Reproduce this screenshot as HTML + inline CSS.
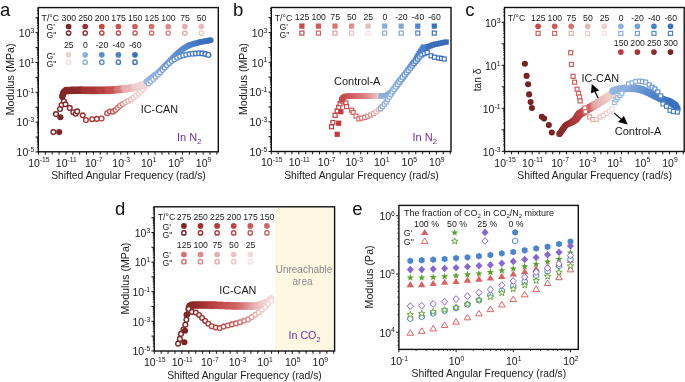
<!DOCTYPE html>
<html><head><meta charset="utf-8"><style>
html,body{margin:0;padding:0;background:#fff;}
svg{display:block;font-family:"Liberation Sans", sans-serif;will-change:transform;}
</style></head><body>
<svg width="685" height="382" viewBox="0 0 685 382">
<rect width="685" height="382" fill="#fff"/>
<text x="0.10" y="15.70" font-size="18.5" text-anchor="start" fill="#111" >a</text>
<text x="233.00" y="15.70" font-size="18.5" text-anchor="start" fill="#111" >b</text>
<text x="465.20" y="15.70" font-size="18.5" text-anchor="start" fill="#111" >c</text>
<text x="115.00" y="214.90" font-size="18.5" text-anchor="start" fill="#111" >d</text>
<text x="352.30" y="215.00" font-size="18.5" text-anchor="start" fill="#111" >e</text>
<rect x="275" y="207.2" width="59.6" height="143.4" fill="#fff7e2"/>
<path d="M38.50 151.80v2.8M45.36 151.80v2.8M52.22 151.80v2.8M59.08 151.80v2.8M65.94 151.80v2.8M72.80 151.80v2.8M79.66 151.80v2.8M86.52 151.80v2.8M93.38 151.80v2.8M100.24 151.80v2.8M107.10 151.80v2.8M113.96 151.80v2.8M120.82 151.80v2.8M127.68 151.80v2.8M134.54 151.80v2.8M141.40 151.80v2.8M148.26 151.80v2.8M155.12 151.80v2.8M161.98 151.80v2.8M168.84 151.80v2.8M175.70 151.80v2.8M182.56 151.80v2.8M189.42 151.80v2.8M196.28 151.80v2.8M203.14 151.80v2.8M210.00 151.80v2.8M216.86 151.80v2.8" stroke="#111" stroke-width="1.0"/>
<text x="38.90" y="166.50" font-size="10.5" text-anchor="middle" fill="#1a1a1a">10<tspan font-size="6.8" dy="-4.1">-15</tspan></text>
<text x="66.34" y="166.50" font-size="10.5" text-anchor="middle" fill="#1a1a1a">10<tspan font-size="6.8" dy="-4.1">-11</tspan></text>
<text x="93.78" y="166.50" font-size="10.5" text-anchor="middle" fill="#1a1a1a">10<tspan font-size="6.8" dy="-4.1">-7</tspan></text>
<text x="121.22" y="166.50" font-size="10.5" text-anchor="middle" fill="#1a1a1a">10<tspan font-size="6.8" dy="-4.1">-3</tspan></text>
<text x="148.66" y="166.50" font-size="10.5" text-anchor="middle" fill="#1a1a1a">10<tspan font-size="6.8" dy="-4.1">1</tspan></text>
<text x="176.10" y="166.50" font-size="10.5" text-anchor="middle" fill="#1a1a1a">10<tspan font-size="6.8" dy="-4.1">5</tspan></text>
<text x="203.54" y="166.50" font-size="10.5" text-anchor="middle" fill="#1a1a1a">10<tspan font-size="6.8" dy="-4.1">9</tspan></text>
<path d="M38.30 151.90h-2.8M38.30 137.00h-2.8M38.30 122.10h-2.8M38.30 107.20h-2.8M38.30 92.30h-2.8M38.30 77.40h-2.8M38.30 62.50h-2.8M38.30 47.60h-2.8M38.30 32.70h-2.8M38.30 17.80h-2.8" stroke="#111" stroke-width="1.0"/>
<path d="M38.30 147.41h-1.4M38.30 144.79h-1.4M38.30 142.93h-1.4M38.30 141.49h-1.4M38.30 140.31h-1.4M38.30 139.31h-1.4M38.30 138.44h-1.4M38.30 137.68h-1.4M38.30 132.51h-1.4M38.30 129.89h-1.4M38.30 128.03h-1.4M38.30 126.59h-1.4M38.30 125.41h-1.4M38.30 124.41h-1.4M38.30 123.54h-1.4M38.30 122.78h-1.4M38.30 117.61h-1.4M38.30 114.99h-1.4M38.30 113.13h-1.4M38.30 111.69h-1.4M38.30 110.51h-1.4M38.30 109.51h-1.4M38.30 108.64h-1.4M38.30 107.88h-1.4M38.30 102.71h-1.4M38.30 100.09h-1.4M38.30 98.23h-1.4M38.30 96.79h-1.4M38.30 95.61h-1.4M38.30 94.61h-1.4M38.30 93.74h-1.4M38.30 92.98h-1.4M38.30 87.81h-1.4M38.30 85.19h-1.4M38.30 83.33h-1.4M38.30 81.89h-1.4M38.30 80.71h-1.4M38.30 79.71h-1.4M38.30 78.84h-1.4M38.30 78.08h-1.4M38.30 72.91h-1.4M38.30 70.29h-1.4M38.30 68.43h-1.4M38.30 66.99h-1.4M38.30 65.81h-1.4M38.30 64.81h-1.4M38.30 63.94h-1.4M38.30 63.18h-1.4M38.30 58.01h-1.4M38.30 55.39h-1.4M38.30 53.53h-1.4M38.30 52.09h-1.4M38.30 50.91h-1.4M38.30 49.91h-1.4M38.30 49.04h-1.4M38.30 48.28h-1.4M38.30 43.11h-1.4M38.30 40.49h-1.4M38.30 38.63h-1.4M38.30 37.19h-1.4M38.30 36.01h-1.4M38.30 35.01h-1.4M38.30 34.14h-1.4M38.30 33.38h-1.4M38.30 28.21h-1.4M38.30 25.59h-1.4M38.30 23.73h-1.4M38.30 22.29h-1.4M38.30 21.11h-1.4M38.30 20.11h-1.4M38.30 19.24h-1.4M38.30 18.48h-1.4M38.30 13.31h-1.4M38.30 10.69h-1.4M38.30 8.83h-1.4" stroke="#111" stroke-width="0.8"/>
<text x="34.30" y="37.00" font-size="10.5" text-anchor="end" fill="#1a1a1a">10<tspan font-size="6.8" dy="-4.1">3</tspan></text>
<text x="34.30" y="66.80" font-size="10.5" text-anchor="end" fill="#1a1a1a">10<tspan font-size="6.8" dy="-4.1">1</tspan></text>
<text x="34.30" y="96.60" font-size="10.5" text-anchor="end" fill="#1a1a1a">10<tspan font-size="6.8" dy="-4.1">-1</tspan></text>
<text x="34.30" y="126.40" font-size="10.5" text-anchor="end" fill="#1a1a1a">10<tspan font-size="6.8" dy="-4.1">-3</tspan></text>
<text x="34.30" y="156.20" font-size="10.5" text-anchor="end" fill="#1a1a1a">10<tspan font-size="6.8" dy="-4.1">-5</tspan></text>
<rect x="38.30" y="7.60" width="180.00" height="144.20" fill="none" stroke="#111" stroke-width="1.4"/>
<text x="0" y="0" font-size="10.6" text-anchor="middle" fill="#1a1a1a" transform="translate(13.70,79.40) rotate(-90)">Modulus (MPa)</text>
<text x="128.50" y="179.40" font-size="10.35" text-anchor="middle" fill="#1a1a1a" >Shifted Angular Frequency (rad/s)</text>
<path d="M271.30 151.50v2.8M278.18 151.50v2.8M285.06 151.50v2.8M291.94 151.50v2.8M298.82 151.50v2.8M305.70 151.50v2.8M312.58 151.50v2.8M319.46 151.50v2.8M326.34 151.50v2.8M333.22 151.50v2.8M340.10 151.50v2.8M346.98 151.50v2.8M353.86 151.50v2.8M360.74 151.50v2.8M367.62 151.50v2.8M374.50 151.50v2.8M381.38 151.50v2.8M388.26 151.50v2.8M395.14 151.50v2.8M402.02 151.50v2.8M408.90 151.50v2.8M415.78 151.50v2.8M422.66 151.50v2.8M429.54 151.50v2.8M436.42 151.50v2.8M443.30 151.50v2.8M450.18 151.50v2.8" stroke="#111" stroke-width="1.0"/>
<text x="271.70" y="166.40" font-size="10.5" text-anchor="middle" fill="#1a1a1a">10<tspan font-size="6.8" dy="-4.1">-15</tspan></text>
<text x="299.22" y="166.40" font-size="10.5" text-anchor="middle" fill="#1a1a1a">10<tspan font-size="6.8" dy="-4.1">-11</tspan></text>
<text x="326.74" y="166.40" font-size="10.5" text-anchor="middle" fill="#1a1a1a">10<tspan font-size="6.8" dy="-4.1">-7</tspan></text>
<text x="354.26" y="166.40" font-size="10.5" text-anchor="middle" fill="#1a1a1a">10<tspan font-size="6.8" dy="-4.1">-3</tspan></text>
<text x="381.78" y="166.40" font-size="10.5" text-anchor="middle" fill="#1a1a1a">10<tspan font-size="6.8" dy="-4.1">1</tspan></text>
<text x="409.30" y="166.40" font-size="10.5" text-anchor="middle" fill="#1a1a1a">10<tspan font-size="6.8" dy="-4.1">5</tspan></text>
<text x="436.82" y="166.40" font-size="10.5" text-anchor="middle" fill="#1a1a1a">10<tspan font-size="6.8" dy="-4.1">9</tspan></text>
<path d="M271.30 151.50h-2.8M271.30 136.62h-2.8M271.30 121.75h-2.8M271.30 106.88h-2.8M271.30 92.00h-2.8M271.30 77.12h-2.8M271.30 62.25h-2.8M271.30 47.38h-2.8M271.30 32.50h-2.8M271.30 17.62h-2.8" stroke="#111" stroke-width="1.0"/>
<path d="M271.30 147.02h-1.4M271.30 144.40h-1.4M271.30 142.54h-1.4M271.30 141.10h-1.4M271.30 139.93h-1.4M271.30 138.93h-1.4M271.30 138.07h-1.4M271.30 137.31h-1.4M271.30 132.15h-1.4M271.30 129.53h-1.4M271.30 127.67h-1.4M271.30 126.23h-1.4M271.30 125.05h-1.4M271.30 124.05h-1.4M271.30 123.19h-1.4M271.30 122.43h-1.4M271.30 117.27h-1.4M271.30 114.65h-1.4M271.30 112.79h-1.4M271.30 111.35h-1.4M271.30 110.18h-1.4M271.30 109.18h-1.4M271.30 108.32h-1.4M271.30 107.56h-1.4M271.30 102.40h-1.4M271.30 99.78h-1.4M271.30 97.92h-1.4M271.30 96.48h-1.4M271.30 95.30h-1.4M271.30 94.30h-1.4M271.30 93.44h-1.4M271.30 92.68h-1.4M271.30 87.52h-1.4M271.30 84.90h-1.4M271.30 83.04h-1.4M271.30 81.60h-1.4M271.30 80.43h-1.4M271.30 79.43h-1.4M271.30 78.57h-1.4M271.30 77.81h-1.4M271.30 72.65h-1.4M271.30 70.03h-1.4M271.30 68.17h-1.4M271.30 66.73h-1.4M271.30 65.55h-1.4M271.30 64.55h-1.4M271.30 63.69h-1.4M271.30 62.93h-1.4M271.30 57.77h-1.4M271.30 55.15h-1.4M271.30 53.29h-1.4M271.30 51.85h-1.4M271.30 50.68h-1.4M271.30 49.68h-1.4M271.30 48.82h-1.4M271.30 48.06h-1.4M271.30 42.90h-1.4M271.30 40.28h-1.4M271.30 38.42h-1.4M271.30 36.98h-1.4M271.30 35.80h-1.4M271.30 34.80h-1.4M271.30 33.94h-1.4M271.30 33.18h-1.4M271.30 28.02h-1.4M271.30 25.40h-1.4M271.30 23.54h-1.4M271.30 22.10h-1.4M271.30 20.93h-1.4M271.30 19.93h-1.4M271.30 19.07h-1.4M271.30 18.31h-1.4M271.30 13.15h-1.4M271.30 10.53h-1.4M271.30 8.67h-1.4" stroke="#111" stroke-width="0.8"/>
<text x="267.30" y="36.80" font-size="10.5" text-anchor="end" fill="#1a1a1a">10<tspan font-size="6.8" dy="-4.1">3</tspan></text>
<text x="267.30" y="66.55" font-size="10.5" text-anchor="end" fill="#1a1a1a">10<tspan font-size="6.8" dy="-4.1">1</tspan></text>
<text x="267.30" y="96.30" font-size="10.5" text-anchor="end" fill="#1a1a1a">10<tspan font-size="6.8" dy="-4.1">-1</tspan></text>
<text x="267.30" y="126.05" font-size="10.5" text-anchor="end" fill="#1a1a1a">10<tspan font-size="6.8" dy="-4.1">-3</tspan></text>
<text x="267.30" y="155.80" font-size="10.5" text-anchor="end" fill="#1a1a1a">10<tspan font-size="6.8" dy="-4.1">-5</tspan></text>
<rect x="271.30" y="7.50" width="179.70" height="144.00" fill="none" stroke="#111" stroke-width="1.4"/>
<text x="0" y="0" font-size="10.6" text-anchor="middle" fill="#1a1a1a" transform="translate(247.00,79.10) rotate(-90)">Modulus (MPa)</text>
<text x="361.50" y="179.30" font-size="10.35" text-anchor="middle" fill="#1a1a1a" >Shifted Angular Frequency (rad/s)</text>
<path d="M154.30 351.00v2.8M161.20 351.00v2.8M168.10 351.00v2.8M175.00 351.00v2.8M181.90 351.00v2.8M188.80 351.00v2.8M195.70 351.00v2.8M202.60 351.00v2.8M209.50 351.00v2.8M216.40 351.00v2.8M223.30 351.00v2.8M230.20 351.00v2.8M237.10 351.00v2.8M244.00 351.00v2.8M250.90 351.00v2.8M257.80 351.00v2.8M264.70 351.00v2.8M271.60 351.00v2.8M278.50 351.00v2.8M285.40 351.00v2.8M292.30 351.00v2.8M299.20 351.00v2.8M306.10 351.00v2.8M313.00 351.00v2.8M319.90 351.00v2.8M326.80 351.00v2.8M333.70 351.00v2.8" stroke="#111" stroke-width="1.0"/>
<text x="154.70" y="366.10" font-size="10.5" text-anchor="middle" fill="#1a1a1a">10<tspan font-size="6.8" dy="-4.1">-15</tspan></text>
<text x="182.30" y="366.10" font-size="10.5" text-anchor="middle" fill="#1a1a1a">10<tspan font-size="6.8" dy="-4.1">-11</tspan></text>
<text x="209.90" y="366.10" font-size="10.5" text-anchor="middle" fill="#1a1a1a">10<tspan font-size="6.8" dy="-4.1">-7</tspan></text>
<text x="237.50" y="366.10" font-size="10.5" text-anchor="middle" fill="#1a1a1a">10<tspan font-size="6.8" dy="-4.1">-3</tspan></text>
<text x="265.10" y="366.10" font-size="10.5" text-anchor="middle" fill="#1a1a1a">10<tspan font-size="6.8" dy="-4.1">1</tspan></text>
<text x="292.70" y="366.10" font-size="10.5" text-anchor="middle" fill="#1a1a1a">10<tspan font-size="6.8" dy="-4.1">5</tspan></text>
<text x="320.30" y="366.10" font-size="10.5" text-anchor="middle" fill="#1a1a1a">10<tspan font-size="6.8" dy="-4.1">9</tspan></text>
<path d="M154.20 350.90h-2.8M154.20 336.10h-2.8M154.20 321.30h-2.8M154.20 306.50h-2.8M154.20 291.70h-2.8M154.20 276.90h-2.8M154.20 262.10h-2.8M154.20 247.30h-2.8M154.20 232.50h-2.8M154.20 217.70h-2.8" stroke="#111" stroke-width="1.0"/>
<path d="M154.20 346.44h-1.4M154.20 343.84h-1.4M154.20 341.99h-1.4M154.20 340.56h-1.4M154.20 339.38h-1.4M154.20 338.39h-1.4M154.20 337.53h-1.4M154.20 336.78h-1.4M154.20 331.64h-1.4M154.20 329.04h-1.4M154.20 327.19h-1.4M154.20 325.76h-1.4M154.20 324.58h-1.4M154.20 323.59h-1.4M154.20 322.73h-1.4M154.20 321.98h-1.4M154.20 316.84h-1.4M154.20 314.24h-1.4M154.20 312.39h-1.4M154.20 310.96h-1.4M154.20 309.78h-1.4M154.20 308.79h-1.4M154.20 307.93h-1.4M154.20 307.18h-1.4M154.20 302.04h-1.4M154.20 299.44h-1.4M154.20 297.59h-1.4M154.20 296.16h-1.4M154.20 294.98h-1.4M154.20 293.99h-1.4M154.20 293.13h-1.4M154.20 292.38h-1.4M154.20 287.24h-1.4M154.20 284.64h-1.4M154.20 282.79h-1.4M154.20 281.36h-1.4M154.20 280.18h-1.4M154.20 279.19h-1.4M154.20 278.33h-1.4M154.20 277.58h-1.4M154.20 272.44h-1.4M154.20 269.84h-1.4M154.20 267.99h-1.4M154.20 266.56h-1.4M154.20 265.38h-1.4M154.20 264.39h-1.4M154.20 263.53h-1.4M154.20 262.78h-1.4M154.20 257.64h-1.4M154.20 255.04h-1.4M154.20 253.19h-1.4M154.20 251.76h-1.4M154.20 250.58h-1.4M154.20 249.59h-1.4M154.20 248.73h-1.4M154.20 247.98h-1.4M154.20 242.84h-1.4M154.20 240.24h-1.4M154.20 238.39h-1.4M154.20 236.96h-1.4M154.20 235.78h-1.4M154.20 234.79h-1.4M154.20 233.93h-1.4M154.20 233.18h-1.4M154.20 228.04h-1.4M154.20 225.44h-1.4M154.20 223.59h-1.4M154.20 222.16h-1.4M154.20 220.98h-1.4M154.20 219.99h-1.4M154.20 219.13h-1.4M154.20 218.38h-1.4M154.20 213.24h-1.4M154.20 210.64h-1.4M154.20 208.79h-1.4M154.20 207.36h-1.4" stroke="#111" stroke-width="0.8"/>
<text x="150.20" y="236.80" font-size="10.5" text-anchor="end" fill="#1a1a1a">10<tspan font-size="6.8" dy="-4.1">3</tspan></text>
<text x="150.20" y="266.40" font-size="10.5" text-anchor="end" fill="#1a1a1a">10<tspan font-size="6.8" dy="-4.1">1</tspan></text>
<text x="150.20" y="296.00" font-size="10.5" text-anchor="end" fill="#1a1a1a">10<tspan font-size="6.8" dy="-4.1">-1</tspan></text>
<text x="150.20" y="325.60" font-size="10.5" text-anchor="end" fill="#1a1a1a">10<tspan font-size="6.8" dy="-4.1">-3</tspan></text>
<text x="150.20" y="355.20" font-size="10.5" text-anchor="end" fill="#1a1a1a">10<tspan font-size="6.8" dy="-4.1">-5</tspan></text>
<rect x="154.20" y="206.80" width="180.40" height="144.20" fill="none" stroke="#111" stroke-width="1.4"/>
<text x="0" y="0" font-size="10.6" text-anchor="middle" fill="#1a1a1a" transform="translate(129.20,278.60) rotate(-90)">Modulus (MPa)</text>
<text x="244.50" y="379.00" font-size="10.35" text-anchor="middle" fill="#1a1a1a" >Shifted Angular Frequency (rad/s)</text>
<text transform="translate(41.60,20.80) scale(1,1.1)" font-size="8.7" text-anchor="start" fill="#1a1a1a" >T/°C</text>
<text transform="translate(68.80,20.60) scale(1,1.1)" font-size="8.7" text-anchor="middle" fill="#1a1a1a" >300</text>
<circle cx="68.60" cy="26.50" r="2.85" fill="#7e2424"/>
<circle cx="68.60" cy="33.10" r="2.15" fill="#fff" stroke="#7e2424" stroke-width="1.4"/>
<text transform="translate(85.40,20.60) scale(1,1.1)" font-size="8.7" text-anchor="middle" fill="#1a1a1a" >250</text>
<circle cx="85.20" cy="26.50" r="2.85" fill="#a03030"/>
<circle cx="85.20" cy="33.10" r="2.15" fill="#fff" stroke="#a03030" stroke-width="1.4"/>
<text transform="translate(102.00,20.60) scale(1,1.1)" font-size="8.7" text-anchor="middle" fill="#1a1a1a" >200</text>
<circle cx="101.80" cy="26.50" r="2.85" fill="#c4463f"/>
<circle cx="101.80" cy="33.10" r="2.15" fill="#fff" stroke="#c4463f" stroke-width="1.4"/>
<text transform="translate(118.60,20.60) scale(1,1.1)" font-size="8.7" text-anchor="middle" fill="#1a1a1a" >175</text>
<circle cx="118.40" cy="26.50" r="2.85" fill="#cb5050"/>
<circle cx="118.40" cy="33.10" r="2.15" fill="#fff" stroke="#cb5050" stroke-width="1.4"/>
<text transform="translate(135.20,20.60) scale(1,1.1)" font-size="8.7" text-anchor="middle" fill="#1a1a1a" >150</text>
<circle cx="135.00" cy="26.50" r="2.85" fill="#cf5c5c"/>
<circle cx="135.00" cy="33.10" r="2.15" fill="#fff" stroke="#cf5c5c" stroke-width="1.4"/>
<text transform="translate(151.80,20.60) scale(1,1.1)" font-size="8.7" text-anchor="middle" fill="#1a1a1a" >125</text>
<circle cx="151.60" cy="26.50" r="2.85" fill="#d66c6c"/>
<circle cx="151.60" cy="33.10" r="2.15" fill="#fff" stroke="#d66c6c" stroke-width="1.4"/>
<text transform="translate(168.40,20.60) scale(1,1.1)" font-size="8.7" text-anchor="middle" fill="#1a1a1a" >100</text>
<circle cx="168.20" cy="26.50" r="2.85" fill="#dc8a8a"/>
<circle cx="168.20" cy="33.10" r="2.15" fill="#fff" stroke="#dc8a8a" stroke-width="1.4"/>
<text transform="translate(185.00,20.60) scale(1,1.1)" font-size="8.7" text-anchor="middle" fill="#1a1a1a" >75</text>
<circle cx="184.80" cy="26.50" r="2.85" fill="#e6adad"/>
<circle cx="184.80" cy="33.10" r="2.15" fill="#fff" stroke="#e6adad" stroke-width="1.4"/>
<text transform="translate(201.60,20.60) scale(1,1.1)" font-size="8.7" text-anchor="middle" fill="#1a1a1a" >50</text>
<circle cx="201.40" cy="26.50" r="2.85" fill="#ebbaba"/>
<circle cx="201.40" cy="33.10" r="2.15" fill="#fff" stroke="#efcaca" stroke-width="1.4"/>
<text x="46.40" y="30.40" font-size="8.7" text-anchor="start" fill="#1a1a1a" >G'</text>
<text x="46.40" y="37.80" font-size="8.7" text-anchor="start" fill="#1a1a1a" >G"</text>
<text transform="translate(68.80,47.60) scale(1,1.1)" font-size="8.7" text-anchor="middle" fill="#1a1a1a" >25</text>
<circle cx="68.60" cy="54.80" r="2.85" fill="#efcfcf"/>
<circle cx="68.60" cy="62.20" r="2.15" fill="#fff" stroke="#f3dede" stroke-width="1.4"/>
<text transform="translate(85.40,47.60) scale(1,1.1)" font-size="8.7" text-anchor="middle" fill="#1a1a1a" >0</text>
<circle cx="85.20" cy="54.80" r="2.85" fill="#8eb2de"/>
<circle cx="85.20" cy="62.20" r="2.15" fill="#fff" stroke="#8eb2de" stroke-width="1.4"/>
<text transform="translate(102.00,47.60) scale(1,1.1)" font-size="8.7" text-anchor="middle" fill="#1a1a1a" >-20</text>
<circle cx="101.80" cy="54.80" r="2.85" fill="#5b8fd2"/>
<circle cx="101.80" cy="62.20" r="2.15" fill="#fff" stroke="#5b8fd2" stroke-width="1.4"/>
<text transform="translate(118.60,47.60) scale(1,1.1)" font-size="8.7" text-anchor="middle" fill="#1a1a1a" >-40</text>
<circle cx="118.40" cy="54.80" r="2.85" fill="#4a80cb"/>
<circle cx="118.40" cy="62.20" r="2.15" fill="#fff" stroke="#4a80cb" stroke-width="1.4"/>
<text transform="translate(135.20,47.60) scale(1,1.1)" font-size="8.7" text-anchor="middle" fill="#1a1a1a" >-60</text>
<circle cx="135.00" cy="54.80" r="2.85" fill="#3a70c0"/>
<circle cx="135.00" cy="62.20" r="2.15" fill="#fff" stroke="#3a70c0" stroke-width="1.4"/>
<text x="46.40" y="58.70" font-size="8.7" text-anchor="start" fill="#1a1a1a" >G'</text>
<text x="46.40" y="66.90" font-size="8.7" text-anchor="start" fill="#1a1a1a" >G"</text>
<circle cx="53.40" cy="132.10" r="2.35" fill="#fff" stroke="#7e2424" stroke-width="1.4"/>
<circle cx="56.00" cy="114.10" r="2.35" fill="#fff" stroke="#7e2424" stroke-width="1.4"/>
<circle cx="60.00" cy="109.00" r="2.35" fill="#fff" stroke="#7e2424" stroke-width="1.4"/>
<circle cx="61.61" cy="104.93" r="2.35" fill="#fff" stroke="#802525" stroke-width="1.4"/>
<circle cx="63.90" cy="101.20" r="2.35" fill="#fff" stroke="#832727" stroke-width="1.4"/>
<circle cx="65.50" cy="104.30" r="2.35" fill="#fff" stroke="#852828" stroke-width="1.4"/>
<circle cx="69.75" cy="107.91" r="2.35" fill="#fff" stroke="#872929" stroke-width="1.4"/>
<circle cx="73.30" cy="112.20" r="2.35" fill="#fff" stroke="#892929" stroke-width="1.4"/>
<circle cx="75.70" cy="113.80" r="2.35" fill="#fff" stroke="#8a2a2a" stroke-width="1.4"/>
<circle cx="77.20" cy="111.40" r="2.35" fill="#fff" stroke="#8a2a2a" stroke-width="1.4"/>
<circle cx="82.70" cy="115.30" r="2.35" fill="#fff" stroke="#9b3030" stroke-width="1.4"/>
<circle cx="85.90" cy="120.00" r="2.35" fill="#fff" stroke="#a63434" stroke-width="1.4"/>
<circle cx="92.20" cy="119.20" r="2.35" fill="#fff" stroke="#a73535" stroke-width="1.4"/>
<circle cx="96.90" cy="118.90" r="2.35" fill="#fff" stroke="#a83535" stroke-width="1.4"/>
<circle cx="101.60" cy="118.50" r="2.35" fill="#fff" stroke="#b84040" stroke-width="1.4"/>
<circle cx="107.10" cy="113.20" r="2.35" fill="#fff" stroke="#c04949" stroke-width="1.4"/>
<circle cx="109.82" cy="111.62" r="2.35" fill="#fff" stroke="#c75151" stroke-width="1.4"/>
<circle cx="112.90" cy="111.65" r="2.35" fill="#fff" stroke="#c75151" stroke-width="1.4"/>
<circle cx="115.39" cy="109.97" r="2.35" fill="#fff" stroke="#cb5959" stroke-width="1.4"/>
<circle cx="117.72" cy="107.85" r="2.35" fill="#fff" stroke="#d67777" stroke-width="1.4"/>
<circle cx="120.03" cy="105.72" r="2.35" fill="#fff" stroke="#d77878" stroke-width="1.4"/>
<circle cx="122.68" cy="104.03" r="2.35" fill="#fff" stroke="#dd8c8c" stroke-width="1.4"/>
<circle cx="125.35" cy="102.37" r="2.35" fill="#fff" stroke="#e6b1b1" stroke-width="1.4"/>
<circle cx="128.17" cy="100.97" r="2.35" fill="#fff" stroke="#e7b3b3" stroke-width="1.4"/>
<circle cx="130.98" cy="99.56" r="2.35" fill="#fff" stroke="#e8b4b4" stroke-width="1.4"/>
<circle cx="133.53" cy="97.74" r="2.35" fill="#fff" stroke="#edc7c7" stroke-width="1.4"/>
<circle cx="135.98" cy="95.77" r="2.35" fill="#fff" stroke="#efcece" stroke-width="1.4"/>
<circle cx="138.42" cy="93.78" r="2.35" fill="#fff" stroke="#f0d0d0" stroke-width="1.4"/>
<circle cx="140.67" cy="91.58" r="2.35" fill="#fff" stroke="#f1d2d2" stroke-width="1.4"/>
<circle cx="142.91" cy="89.38" r="2.35" fill="#fff" stroke="#f1d3d3" stroke-width="1.4"/>
<circle cx="144.99" cy="87.02" r="2.35" fill="#fff" stroke="#f2d5d5" stroke-width="1.4"/>
<circle cx="147.00" cy="84.60" r="2.35" fill="#fff" stroke="#f2d6d6" stroke-width="1.4"/>
<circle cx="59.20" cy="132.10" r="3.05" fill="#7e2424"/>
<circle cx="60.40" cy="117.20" r="3.05" fill="#7e2424"/>
<circle cx="62.30" cy="97.00" r="3.05" fill="#812626"/>
<circle cx="62.79" cy="95.22" r="3.05" fill="#822626"/>
<circle cx="63.28" cy="93.43" r="3.05" fill="#822626"/>
<circle cx="64.55" cy="92.20" r="3.05" fill="#842727"/>
<circle cx="66.09" cy="91.20" r="3.05" fill="#862828"/>
<circle cx="67.94" cy="91.17" r="3.05" fill="#872828"/>
<circle cx="69.79" cy="91.15" r="3.05" fill="#882929"/>
<circle cx="71.64" cy="91.12" r="3.05" fill="#882929"/>
<circle cx="73.49" cy="91.09" r="3.05" fill="#892929"/>
<circle cx="75.34" cy="91.07" r="3.05" fill="#8a2a2a"/>
<circle cx="77.19" cy="91.04" r="3.05" fill="#8a2a2a"/>
<circle cx="79.04" cy="91.01" r="3.05" fill="#8b2b2b"/>
<circle cx="80.89" cy="91.01" r="3.05" fill="#8c2b2b"/>
<circle cx="82.74" cy="91.04" r="3.05" fill="#9b3030"/>
<circle cx="84.59" cy="91.06" r="3.05" fill="#a63434"/>
<circle cx="86.44" cy="91.09" r="3.05" fill="#a63434"/>
<circle cx="88.29" cy="91.11" r="3.05" fill="#a73434"/>
<circle cx="90.13" cy="91.14" r="3.05" fill="#a73434"/>
<circle cx="91.98" cy="91.16" r="3.05" fill="#a73535"/>
<circle cx="93.83" cy="91.18" r="3.05" fill="#a83535"/>
<circle cx="95.68" cy="91.19" r="3.05" fill="#a83535"/>
<circle cx="97.53" cy="91.17" r="3.05" fill="#ac3838"/>
<circle cx="99.38" cy="91.14" r="3.05" fill="#b84040"/>
<circle cx="101.23" cy="91.12" r="3.05" fill="#b84040"/>
<circle cx="103.08" cy="91.09" r="3.05" fill="#b84040"/>
<circle cx="104.93" cy="91.07" r="3.05" fill="#b84040"/>
<circle cx="106.78" cy="91.04" r="3.05" fill="#bd4646"/>
<circle cx="108.63" cy="91.02" r="3.05" fill="#c65050"/>
<circle cx="110.48" cy="90.96" r="3.05" fill="#c75151"/>
<circle cx="112.32" cy="90.81" r="3.05" fill="#c75151"/>
<circle cx="114.17" cy="90.67" r="3.05" fill="#c85252"/>
<circle cx="116.01" cy="90.52" r="3.05" fill="#cf6464"/>
<circle cx="117.86" cy="90.37" r="3.05" fill="#d67777"/>
<circle cx="119.70" cy="90.22" r="3.05" fill="#d77878"/>
<circle cx="121.54" cy="90.08" r="3.05" fill="#d87a7a"/>
<circle cx="123.39" cy="89.93" r="3.05" fill="#e29f9f"/>
<circle cx="125.23" cy="89.77" r="3.05" fill="#e6b1b1"/>
<circle cx="127.06" cy="89.49" r="3.05" fill="#e7b2b2"/>
<circle cx="128.89" cy="89.22" r="3.05" fill="#e7b3b3"/>
<circle cx="130.72" cy="88.94" r="3.05" fill="#e8b4b4"/>
<circle cx="132.55" cy="88.67" r="3.05" fill="#eabbbb"/>
<circle cx="134.38" cy="88.39" r="3.05" fill="#efcccc"/>
<circle cx="136.17" cy="87.94" r="3.05" fill="#f0cece"/>
<circle cx="137.93" cy="87.39" r="3.05" fill="#f0cfcf"/>
<circle cx="139.70" cy="86.84" r="3.05" fill="#f0d1d1"/>
<circle cx="141.47" cy="86.30" r="3.05" fill="#f1d2d2"/>
<circle cx="143.23" cy="85.75" r="3.05" fill="#f1d4d4"/>
<circle cx="145.00" cy="85.20" r="3.05" fill="#f2d5d5"/>
<circle cx="62.30" cy="96.00" r="3.05" fill="#812626"/>
<circle cx="62.79" cy="94.21" r="3.05" fill="#822626"/>
<circle cx="63.28" cy="92.42" r="3.05" fill="#822626"/>
<circle cx="64.48" cy="91.08" r="3.05" fill="#842727"/>
<circle cx="65.90" cy="89.89" r="3.05" fill="#862828"/>
<circle cx="67.72" cy="89.75" r="3.05" fill="#872828"/>
<circle cx="69.58" cy="89.70" r="3.05" fill="#872929"/>
<circle cx="71.43" cy="89.64" r="3.05" fill="#882929"/>
<circle cx="73.29" cy="89.59" r="3.05" fill="#892929"/>
<circle cx="75.14" cy="89.54" r="3.05" fill="#8a2a2a"/>
<circle cx="77.00" cy="89.49" r="3.05" fill="#8a2a2a"/>
<circle cx="78.85" cy="89.43" r="3.05" fill="#8b2b2b"/>
<circle cx="80.71" cy="89.41" r="3.05" fill="#8c2b2b"/>
<circle cx="82.56" cy="89.43" r="3.05" fill="#9a3030"/>
<circle cx="84.42" cy="89.46" r="3.05" fill="#a63434"/>
<circle cx="86.27" cy="89.48" r="3.05" fill="#a63434"/>
<circle cx="88.13" cy="89.51" r="3.05" fill="#a73434"/>
<circle cx="89.98" cy="89.53" r="3.05" fill="#a73434"/>
<circle cx="91.84" cy="89.56" r="3.05" fill="#a73535"/>
<circle cx="93.69" cy="89.58" r="3.05" fill="#a73535"/>
<circle cx="95.55" cy="89.59" r="3.05" fill="#a83535"/>
<circle cx="97.40" cy="89.57" r="3.05" fill="#ab3737"/>
<circle cx="99.26" cy="89.54" r="3.05" fill="#b84040"/>
<circle cx="101.11" cy="89.52" r="3.05" fill="#b84040"/>
<circle cx="102.97" cy="89.49" r="3.05" fill="#b84040"/>
<circle cx="104.82" cy="89.47" r="3.05" fill="#b84040"/>
<circle cx="106.68" cy="89.44" r="3.05" fill="#bd4545"/>
<circle cx="108.54" cy="89.42" r="3.05" fill="#c65050"/>
<circle cx="110.39" cy="89.37" r="3.05" fill="#c75151"/>
<circle cx="112.24" cy="89.22" r="3.05" fill="#c75151"/>
<circle cx="114.09" cy="89.07" r="3.05" fill="#c85252"/>
<circle cx="115.94" cy="88.92" r="3.05" fill="#cf6363"/>
<circle cx="117.79" cy="88.78" r="3.05" fill="#d67777"/>
<circle cx="119.64" cy="88.63" r="3.05" fill="#d77878"/>
<circle cx="121.49" cy="88.48" r="3.05" fill="#d87a7a"/>
<circle cx="123.34" cy="88.33" r="3.05" fill="#e19e9e"/>
<circle cx="125.18" cy="88.17" r="3.05" fill="#e6b1b1"/>
<circle cx="127.02" cy="87.88" r="3.05" fill="#e7b2b2"/>
<circle cx="128.85" cy="87.58" r="3.05" fill="#e7b3b3"/>
<circle cx="130.68" cy="87.29" r="3.05" fill="#e8b4b4"/>
<circle cx="132.51" cy="87.00" r="3.05" fill="#eabbbb"/>
<circle cx="134.34" cy="86.70" r="3.05" fill="#efcccc"/>
<circle cx="136.14" cy="86.25" r="3.05" fill="#f0cece"/>
<circle cx="137.91" cy="85.70" r="3.05" fill="#f0cfcf"/>
<circle cx="139.68" cy="85.15" r="3.05" fill="#f0d1d1"/>
<circle cx="141.46" cy="84.60" r="3.05" fill="#f1d2d2"/>
<circle cx="143.23" cy="84.05" r="3.05" fill="#f1d4d4"/>
<circle cx="145.00" cy="83.50" r="3.05" fill="#f2d5d5"/>
<circle cx="146.50" cy="81.50" r="3.05" fill="#99b9e2"/>
<circle cx="148.09" cy="80.28" r="3.05" fill="#97b7e1"/>
<circle cx="149.68" cy="79.06" r="3.05" fill="#95b6e0"/>
<circle cx="151.26" cy="77.83" r="3.05" fill="#93b4e0"/>
<circle cx="152.85" cy="76.61" r="3.05" fill="#91b3df"/>
<circle cx="154.45" cy="75.40" r="3.05" fill="#8fb1de"/>
<circle cx="156.04" cy="74.18" r="3.05" fill="#8db0de"/>
<circle cx="157.64" cy="72.97" r="3.05" fill="#8aaedd"/>
<circle cx="159.23" cy="71.76" r="3.05" fill="#85aadc"/>
<circle cx="160.69" cy="70.39" r="3.05" fill="#7fa6da"/>
<circle cx="162.09" cy="68.96" r="3.05" fill="#7aa2d9"/>
<circle cx="163.49" cy="67.53" r="3.05" fill="#749ed8"/>
<circle cx="164.90" cy="66.10" r="3.05" fill="#6e9ad6"/>
<circle cx="166.32" cy="64.68" r="3.05" fill="#6d99d6"/>
<circle cx="167.73" cy="63.27" r="3.05" fill="#6b98d5"/>
<circle cx="169.15" cy="61.85" r="3.05" fill="#6a97d5"/>
<circle cx="170.55" cy="60.41" r="3.05" fill="#6896d4"/>
<circle cx="171.94" cy="58.97" r="3.05" fill="#6795d4"/>
<circle cx="173.32" cy="57.52" r="3.05" fill="#6594d3"/>
<circle cx="174.72" cy="56.09" r="3.05" fill="#6493d3"/>
<circle cx="176.18" cy="54.72" r="3.05" fill="#6292d2"/>
<circle cx="177.64" cy="53.34" r="3.05" fill="#6191d2"/>
<circle cx="179.10" cy="51.97" r="3.05" fill="#5f90d2"/>
<circle cx="180.65" cy="50.70" r="3.05" fill="#5e8fd1"/>
<circle cx="182.25" cy="49.50" r="3.05" fill="#5c8ed1"/>
<circle cx="183.85" cy="48.29" r="3.05" fill="#5a8dd0"/>
<circle cx="185.56" cy="47.25" r="3.05" fill="#588bcf"/>
<circle cx="187.33" cy="46.33" r="3.05" fill="#5589ce"/>
<circle cx="189.11" cy="45.40" r="3.05" fill="#5286cd"/>
<circle cx="190.98" cy="44.70" r="3.05" fill="#4f84cd"/>
<circle cx="192.88" cy="44.05" r="3.05" fill="#4c81cc"/>
<circle cx="194.79" cy="43.43" r="3.05" fill="#487eca"/>
<circle cx="196.73" cy="42.96" r="3.05" fill="#447ac7"/>
<circle cx="198.68" cy="42.50" r="3.05" fill="#4076c4"/>
<circle cx="200.64" cy="42.07" r="3.05" fill="#3d73c2"/>
<circle cx="202.61" cy="41.68" r="3.05" fill="#3c72c2"/>
<circle cx="204.57" cy="41.29" r="3.05" fill="#3c72c1"/>
<circle cx="206.54" cy="40.95" r="3.05" fill="#3b71c1"/>
<circle cx="208.52" cy="40.62" r="3.05" fill="#3b71c1"/>
<circle cx="210.50" cy="40.30" r="3.05" fill="#3a70c0"/>
<circle cx="148.50" cy="83.50" r="2.35" fill="#fff" stroke="#97b7e1" stroke-width="1.4"/>
<circle cx="150.87" cy="81.32" r="2.35" fill="#fff" stroke="#94b5e0" stroke-width="1.4"/>
<circle cx="153.24" cy="79.14" r="2.35" fill="#fff" stroke="#90b2df" stroke-width="1.4"/>
<circle cx="155.61" cy="76.96" r="2.35" fill="#fff" stroke="#8db0de" stroke-width="1.4"/>
<circle cx="157.94" cy="74.73" r="2.35" fill="#fff" stroke="#8aaedd" stroke-width="1.4"/>
<circle cx="160.17" cy="72.41" r="2.35" fill="#fff" stroke="#81a8db" stroke-width="1.4"/>
<circle cx="162.39" cy="70.08" r="2.35" fill="#fff" stroke="#78a1d9" stroke-width="1.4"/>
<circle cx="164.58" cy="67.71" r="2.35" fill="#fff" stroke="#709bd6" stroke-width="1.4"/>
<circle cx="166.77" cy="65.35" r="2.35" fill="#fff" stroke="#6c99d5" stroke-width="1.4"/>
<circle cx="169.14" cy="63.17" r="2.35" fill="#fff" stroke="#6a97d5" stroke-width="1.4"/>
<circle cx="171.61" cy="61.11" r="2.35" fill="#fff" stroke="#6795d4" stroke-width="1.4"/>
<circle cx="174.32" cy="59.38" r="2.35" fill="#fff" stroke="#6494d3" stroke-width="1.4"/>
<circle cx="177.12" cy="57.78" r="2.35" fill="#fff" stroke="#6192d2" stroke-width="1.4"/>
<circle cx="180.02" cy="56.41" r="2.35" fill="#fff" stroke="#5e90d1" stroke-width="1.4"/>
<circle cx="183.07" cy="55.39" r="2.35" fill="#fff" stroke="#5b8ed0" stroke-width="1.4"/>
<circle cx="186.22" cy="54.71" r="2.35" fill="#fff" stroke="#568acf" stroke-width="1.4"/>
<circle cx="189.37" cy="54.03" r="2.35" fill="#fff" stroke="#5186cd" stroke-width="1.4"/>
<circle cx="192.58" cy="53.75" r="2.35" fill="#fff" stroke="#4c82cc" stroke-width="1.4"/>
<circle cx="195.79" cy="53.50" r="2.35" fill="#fff" stroke="#467cc8" stroke-width="1.4"/>
<circle cx="199.00" cy="53.24" r="2.35" fill="#fff" stroke="#3f75c4" stroke-width="1.4"/>
<circle cx="202.21" cy="53.42" r="2.35" fill="#fff" stroke="#3c72c2" stroke-width="1.4"/>
<circle cx="205.37" cy="53.91" r="2.35" fill="#fff" stroke="#3c72c1" stroke-width="1.4"/>
<circle cx="208.40" cy="55.00" r="2.35" fill="#fff" stroke="#3b71c1" stroke-width="1.4"/>
<text x="140.80" y="112.90" font-size="10.8" text-anchor="start" fill="#1a1a1a" >IC-CAN</text>
<text transform="translate(274.70,20.80) scale(1,1.1)" font-size="8.7" text-anchor="start" fill="#1a1a1a" >T/°C</text>
<text transform="translate(302.10,20.20) scale(1,1.1)" font-size="8.7" text-anchor="middle" fill="#1a1a1a" >125</text>
<rect x="299.30" y="23.50" width="5.20" height="5.20" fill="#c84848"/>
<rect x="299.90" y="31.10" width="4.00" height="4.00" fill="#fff" stroke="#c84848" stroke-width="1.2"/>
<text transform="translate(318.65,20.20) scale(1,1.1)" font-size="8.7" text-anchor="middle" fill="#1a1a1a" >100</text>
<rect x="315.85" y="23.50" width="5.20" height="5.20" fill="#d05a5a"/>
<rect x="316.45" y="31.10" width="4.00" height="4.00" fill="#fff" stroke="#d06060" stroke-width="1.2"/>
<text transform="translate(335.20,20.20) scale(1,1.1)" font-size="8.7" text-anchor="middle" fill="#1a1a1a" >75</text>
<rect x="332.40" y="23.50" width="5.20" height="5.20" fill="#d87474"/>
<rect x="333.00" y="31.10" width="4.00" height="4.00" fill="#fff" stroke="#e0a0a0" stroke-width="1.2"/>
<text transform="translate(351.75,20.20) scale(1,1.1)" font-size="8.7" text-anchor="middle" fill="#1a1a1a" >50</text>
<rect x="348.95" y="23.50" width="5.20" height="5.20" fill="#de8e8e"/>
<rect x="349.55" y="31.10" width="4.00" height="4.00" fill="#fff" stroke="#ebc0c0" stroke-width="1.2"/>
<text transform="translate(368.30,20.20) scale(1,1.1)" font-size="8.7" text-anchor="middle" fill="#1a1a1a" >25</text>
<rect x="365.50" y="23.50" width="5.20" height="5.20" fill="#e8bdbd"/>
<rect x="366.10" y="31.10" width="4.00" height="4.00" fill="#fff" stroke="#f5e0e0" stroke-width="1.2"/>
<text transform="translate(384.85,20.20) scale(1,1.1)" font-size="8.7" text-anchor="middle" fill="#1a1a1a" >0</text>
<rect x="382.05" y="23.50" width="5.20" height="5.20" fill="#88aedd"/>
<rect x="382.65" y="31.10" width="4.00" height="4.00" fill="#fff" stroke="#88aedd" stroke-width="1.2"/>
<text transform="translate(401.40,20.20) scale(1,1.1)" font-size="8.7" text-anchor="middle" fill="#1a1a1a" >-20</text>
<rect x="398.60" y="23.50" width="5.20" height="5.20" fill="#7ea6da"/>
<rect x="399.20" y="31.10" width="4.00" height="4.00" fill="#fff" stroke="#7ea6da" stroke-width="1.2"/>
<text transform="translate(417.95,20.20) scale(1,1.1)" font-size="8.7" text-anchor="middle" fill="#1a1a1a" >-40</text>
<rect x="415.15" y="23.50" width="5.20" height="5.20" fill="#4f86cf"/>
<rect x="415.75" y="31.10" width="4.00" height="4.00" fill="#fff" stroke="#4f86cf" stroke-width="1.2"/>
<text transform="translate(434.50,20.20) scale(1,1.1)" font-size="8.7" text-anchor="middle" fill="#1a1a1a" >-60</text>
<rect x="431.70" y="23.50" width="5.20" height="5.20" fill="#3a6fb8"/>
<rect x="432.30" y="31.10" width="4.00" height="4.00" fill="#fff" stroke="#3a6fb8" stroke-width="1.2"/>
<text x="279.40" y="30.00" font-size="8.7" text-anchor="start" fill="#1a1a1a" >G'</text>
<text x="279.40" y="37.80" font-size="8.7" text-anchor="start" fill="#1a1a1a" >G"</text>
<rect x="329.50" y="124.80" width="4.00" height="4.00" fill="#fff" stroke="#c13c3c" stroke-width="1.2"/>
<rect x="330.90" y="120.50" width="4.00" height="4.00" fill="#fff" stroke="#c23d3d" stroke-width="1.2"/>
<rect x="333.10" y="113.30" width="4.00" height="4.00" fill="#fff" stroke="#c34040" stroke-width="1.2"/>
<rect x="335.20" y="108.90" width="4.00" height="4.00" fill="#fff" stroke="#c54242" stroke-width="1.2"/>
<rect x="336.70" y="105.30" width="4.00" height="4.00" fill="#fff" stroke="#c64444" stroke-width="1.2"/>
<rect x="338.10" y="101.70" width="4.00" height="4.00" fill="#fff" stroke="#c74646" stroke-width="1.2"/>
<rect x="340.00" y="99.00" width="4.00" height="4.00" fill="#fff" stroke="#c84848" stroke-width="1.2"/>
<rect x="343.90" y="101.00" width="4.00" height="4.00" fill="#fff" stroke="#cb4f4f" stroke-width="1.2"/>
<rect x="344.60" y="104.60" width="4.00" height="4.00" fill="#fff" stroke="#cc5050" stroke-width="1.2"/>
<rect x="349.70" y="108.20" width="4.00" height="4.00" fill="#fff" stroke="#d05959" stroke-width="1.2"/>
<rect x="351.10" y="110.40" width="4.00" height="4.00" fill="#fff" stroke="#d15d5d" stroke-width="1.2"/>
<rect x="354.00" y="114.00" width="4.00" height="4.00" fill="#fff" stroke="#d36464" stroke-width="1.2"/>
<rect x="356.90" y="116.90" width="4.00" height="4.00" fill="#fff" stroke="#d66c6c" stroke-width="1.2"/>
<rect x="359.70" y="116.10" width="4.00" height="4.00" fill="#fff" stroke="#d87373" stroke-width="1.2"/>
<rect x="362.60" y="115.40" width="4.00" height="4.00" fill="#fff" stroke="#da7c7c" stroke-width="1.2"/>
<rect x="362.60" y="115.40" width="4.00" height="4.00" fill="#fff" stroke="#da7c7c" stroke-width="1.2"/>
<rect x="365.62" y="114.23" width="4.00" height="4.00" fill="#fff" stroke="#dc8686" stroke-width="1.2"/>
<rect x="368.61" y="113.00" width="4.00" height="4.00" fill="#fff" stroke="#df9292" stroke-width="1.2"/>
<rect x="371.55" y="111.66" width="4.00" height="4.00" fill="#fff" stroke="#e4a4a4" stroke-width="1.2"/>
<rect x="374.17" y="109.81" width="4.00" height="4.00" fill="#fff" stroke="#e8b5b5" stroke-width="1.2"/>
<rect x="376.60" y="107.67" width="4.00" height="4.00" fill="#fff" stroke="#ebbebe" stroke-width="1.2"/>
<rect x="379.00" y="105.50" width="4.00" height="4.00" fill="#fff" stroke="#ecc4c4" stroke-width="1.2"/>
<rect x="334.60" y="131.70" width="5.20" height="5.20" fill="#c03a3a"/>
<rect x="336.10" y="120.60" width="5.20" height="5.20" fill="#c03a3a"/>
<rect x="338.30" y="109.10" width="5.20" height="5.20" fill="#c03a3a"/>
<rect x="339.00" y="97.20" width="5.20" height="5.20" fill="#c84848"/>
<rect x="339.75" y="96.21" width="5.20" height="5.20" fill="#c84949"/>
<rect x="340.50" y="95.23" width="5.20" height="5.20" fill="#c94a4a"/>
<rect x="341.43" y="94.47" width="5.20" height="5.20" fill="#ca4c4c"/>
<rect x="342.56" y="93.97" width="5.20" height="5.20" fill="#cb4e4e"/>
<rect x="343.72" y="93.60" width="5.20" height="5.20" fill="#cb5050"/>
<rect x="344.96" y="93.60" width="5.20" height="5.20" fill="#cc5252"/>
<rect x="346.20" y="93.60" width="5.20" height="5.20" fill="#cd5454"/>
<rect x="347.44" y="93.60" width="5.20" height="5.20" fill="#ce5656"/>
<rect x="348.68" y="93.60" width="5.20" height="5.20" fill="#cf5959"/>
<rect x="349.91" y="93.60" width="5.20" height="5.20" fill="#d05b5b"/>
<rect x="351.15" y="93.60" width="5.20" height="5.20" fill="#d15f5f"/>
<rect x="352.39" y="93.60" width="5.20" height="5.20" fill="#d26262"/>
<rect x="353.63" y="93.60" width="5.20" height="5.20" fill="#d36565"/>
<rect x="354.87" y="93.60" width="5.20" height="5.20" fill="#d46868"/>
<rect x="356.11" y="93.60" width="5.20" height="5.20" fill="#d56b6b"/>
<rect x="357.35" y="93.60" width="5.20" height="5.20" fill="#d66f6f"/>
<rect x="358.58" y="93.60" width="5.20" height="5.20" fill="#d77272"/>
<rect x="359.82" y="93.60" width="5.20" height="5.20" fill="#d87575"/>
<rect x="361.06" y="93.60" width="5.20" height="5.20" fill="#d97979"/>
<rect x="362.30" y="93.60" width="5.20" height="5.20" fill="#da7d7d"/>
<rect x="363.54" y="93.60" width="5.20" height="5.20" fill="#db8181"/>
<rect x="364.78" y="93.60" width="5.20" height="5.20" fill="#dc8585"/>
<rect x="366.02" y="93.60" width="5.20" height="5.20" fill="#dd8a8a"/>
<rect x="367.25" y="93.60" width="5.20" height="5.20" fill="#de8e8e"/>
<rect x="368.49" y="93.58" width="5.20" height="5.20" fill="#e09595"/>
<rect x="369.73" y="93.56" width="5.20" height="5.20" fill="#e29d9d"/>
<rect x="370.97" y="93.54" width="5.20" height="5.20" fill="#e4a5a5"/>
<rect x="372.21" y="93.51" width="5.20" height="5.20" fill="#e6acac"/>
<rect x="373.45" y="93.49" width="5.20" height="5.20" fill="#e8b4b4"/>
<rect x="374.68" y="93.47" width="5.20" height="5.20" fill="#e9b9b9"/>
<rect x="375.92" y="93.45" width="5.20" height="5.20" fill="#ebbebe"/>
<rect x="377.16" y="93.42" width="5.20" height="5.20" fill="#ecc3c3"/>
<rect x="378.40" y="93.40" width="5.20" height="5.20" fill="#ecc4c4"/>
<rect x="378.40" y="93.40" width="5.20" height="5.20" fill="#8db1de"/>
<rect x="380.21" y="93.25" width="5.20" height="5.20" fill="#8cb0de"/>
<rect x="382.03" y="93.11" width="5.20" height="5.20" fill="#8bb0de"/>
<rect x="383.77" y="92.76" width="5.20" height="5.20" fill="#8bb0de"/>
<rect x="385.28" y="91.75" width="5.20" height="5.20" fill="#8aafdd"/>
<rect x="386.79" y="90.74" width="5.20" height="5.20" fill="#8aafdd"/>
<rect x="388.30" y="89.73" width="5.20" height="5.20" fill="#89afdd"/>
<rect x="389.53" y="88.42" width="5.20" height="5.20" fill="#89afdd"/>
<rect x="390.61" y="86.96" width="5.20" height="5.20" fill="#89aedd"/>
<rect x="391.70" y="85.50" width="5.20" height="5.20" fill="#88aedd"/>
<rect x="392.78" y="84.04" width="5.20" height="5.20" fill="#87addd"/>
<rect x="393.87" y="82.58" width="5.20" height="5.20" fill="#83aadc"/>
<rect x="394.95" y="81.12" width="5.20" height="5.20" fill="#7fa7da"/>
<rect x="396.04" y="79.66" width="5.20" height="5.20" fill="#7da5da"/>
<rect x="397.15" y="78.23" width="5.20" height="5.20" fill="#7ba4d9"/>
<rect x="398.30" y="76.82" width="5.20" height="5.20" fill="#79a3d9"/>
<rect x="399.45" y="75.41" width="5.20" height="5.20" fill="#77a1d8"/>
<rect x="400.61" y="74.00" width="5.20" height="5.20" fill="#75a0d7"/>
<rect x="401.76" y="72.60" width="5.20" height="5.20" fill="#739fd7"/>
<rect x="402.91" y="71.19" width="5.20" height="5.20" fill="#719dd6"/>
<rect x="403.97" y="69.71" width="5.20" height="5.20" fill="#709cd6"/>
<rect x="405.03" y="68.23" width="5.20" height="5.20" fill="#6e9bd5"/>
<rect x="406.08" y="66.75" width="5.20" height="5.20" fill="#6c9ad5"/>
<rect x="407.14" y="65.27" width="5.20" height="5.20" fill="#6a98d4"/>
<rect x="408.20" y="63.80" width="5.20" height="5.20" fill="#6594d3"/>
<rect x="409.27" y="62.32" width="5.20" height="5.20" fill="#5d90d2"/>
<rect x="410.51" y="60.99" width="5.20" height="5.20" fill="#558ad0"/>
<rect x="411.74" y="59.66" width="5.20" height="5.20" fill="#4f86cf"/>
<rect x="412.98" y="58.32" width="5.20" height="5.20" fill="#4e85ce"/>
<rect x="414.22" y="56.99" width="5.20" height="5.20" fill="#4e84ce"/>
<rect x="415.16" y="55.44" width="5.20" height="5.20" fill="#4d84cd"/>
<rect x="416.08" y="53.87" width="5.20" height="5.20" fill="#4d83cd"/>
<rect x="416.99" y="52.30" width="5.20" height="5.20" fill="#4c83cd"/>
<rect x="417.91" y="50.73" width="5.20" height="5.20" fill="#4c82cc"/>
<rect x="418.98" y="49.27" width="5.20" height="5.20" fill="#4b81cc"/>
<rect x="420.20" y="47.93" width="5.20" height="5.20" fill="#4b81cb"/>
<rect x="421.43" y="46.59" width="5.20" height="5.20" fill="#4a80cb"/>
<rect x="422.66" y="45.24" width="5.20" height="5.20" fill="#457bc5"/>
<rect x="424.34" y="44.57" width="5.20" height="5.20" fill="#3e74bd"/>
<rect x="426.04" y="43.91" width="5.20" height="5.20" fill="#3a6fb8"/>
<rect x="427.73" y="43.26" width="5.20" height="5.20" fill="#3a6fb8"/>
<rect x="429.43" y="42.60" width="5.20" height="5.20" fill="#3a6fb8"/>
<rect x="431.13" y="41.97" width="5.20" height="5.20" fill="#3a6fb8"/>
<rect x="432.91" y="41.60" width="5.20" height="5.20" fill="#3a6fb8"/>
<rect x="434.70" y="41.24" width="5.20" height="5.20" fill="#3a6fb8"/>
<rect x="436.48" y="40.87" width="5.20" height="5.20" fill="#3a6fb8"/>
<rect x="438.26" y="40.50" width="5.20" height="5.20" fill="#3a6fb8"/>
<rect x="440.04" y="40.13" width="5.20" height="5.20" fill="#3a6fb8"/>
<rect x="441.82" y="39.77" width="5.20" height="5.20" fill="#3a6fb8"/>
<rect x="443.60" y="39.40" width="5.20" height="5.20" fill="#3a6fb8"/>
<rect x="387.40" y="92.40" width="5.20" height="5.20" fill="#8aafdd"/>
<rect x="388.93" y="90.37" width="5.20" height="5.20" fill="#89afdd"/>
<rect x="390.45" y="88.33" width="5.20" height="5.20" fill="#89aedd"/>
<rect x="391.98" y="86.30" width="5.20" height="5.20" fill="#88aedd"/>
<rect x="393.50" y="84.26" width="5.20" height="5.20" fill="#84abdc"/>
<rect x="395.03" y="82.23" width="5.20" height="5.20" fill="#7fa7da"/>
<rect x="396.55" y="80.19" width="5.20" height="5.20" fill="#7ca5d9"/>
<rect x="398.08" y="78.16" width="5.20" height="5.20" fill="#7aa3d9"/>
<rect x="399.61" y="76.13" width="5.20" height="5.20" fill="#77a1d8"/>
<rect x="401.12" y="74.08" width="5.20" height="5.20" fill="#749fd7"/>
<rect x="402.58" y="72.00" width="5.20" height="5.20" fill="#729ed6"/>
<rect x="404.04" y="69.92" width="5.20" height="5.20" fill="#709cd6"/>
<rect x="405.50" y="67.83" width="5.20" height="5.20" fill="#6d9ad5"/>
<rect x="406.95" y="65.75" width="5.20" height="5.20" fill="#6b99d4"/>
<rect x="408.45" y="63.69" width="5.20" height="5.20" fill="#6393d3"/>
<rect x="409.94" y="61.63" width="5.20" height="5.20" fill="#598dd1"/>
<rect x="411.44" y="59.58" width="5.20" height="5.20" fill="#4f86cf"/>
<rect x="412.82" y="57.45" width="5.20" height="5.20" fill="#4e85ce"/>
<rect x="414.04" y="55.22" width="5.20" height="5.20" fill="#4e84ce"/>
<rect x="415.26" y="52.99" width="5.20" height="5.20" fill="#4d84cd"/>
<rect x="416.49" y="50.76" width="5.20" height="5.20" fill="#4c83cd"/>
<rect x="417.89" y="48.64" width="5.20" height="5.20" fill="#4c82cc"/>
<rect x="419.30" y="46.52" width="5.20" height="5.20" fill="#4b81cc"/>
<rect x="420.70" y="44.40" width="5.20" height="5.20" fill="#4a80cb"/>
<rect x="378.40" y="106.70" width="4.00" height="4.00" fill="#fff" stroke="#8db1de" stroke-width="1.2"/>
<rect x="380.35" y="104.47" width="4.00" height="4.00" fill="#fff" stroke="#8cb1de" stroke-width="1.2"/>
<rect x="382.30" y="102.24" width="4.00" height="4.00" fill="#fff" stroke="#8cb0de" stroke-width="1.2"/>
<rect x="384.17" y="99.95" width="4.00" height="4.00" fill="#fff" stroke="#8bb0de" stroke-width="1.2"/>
<rect x="385.66" y="97.39" width="4.00" height="4.00" fill="#fff" stroke="#8aafdd" stroke-width="1.2"/>
<rect x="387.16" y="94.83" width="4.00" height="4.00" fill="#fff" stroke="#8aafdd" stroke-width="1.2"/>
<rect x="388.65" y="92.27" width="4.00" height="4.00" fill="#fff" stroke="#89afdd" stroke-width="1.2"/>
<rect x="390.25" y="89.78" width="4.00" height="4.00" fill="#fff" stroke="#89afdd" stroke-width="1.2"/>
<rect x="391.94" y="87.35" width="4.00" height="4.00" fill="#fff" stroke="#88aedd" stroke-width="1.2"/>
<rect x="393.64" y="84.92" width="4.00" height="4.00" fill="#fff" stroke="#86acdc" stroke-width="1.2"/>
<rect x="395.33" y="82.49" width="4.00" height="4.00" fill="#fff" stroke="#80a8db" stroke-width="1.2"/>
<rect x="397.04" y="80.07" width="4.00" height="4.00" fill="#fff" stroke="#7ca5d9" stroke-width="1.2"/>
<rect x="398.75" y="77.64" width="4.00" height="4.00" fill="#fff" stroke="#79a3d9" stroke-width="1.2"/>
<rect x="400.46" y="75.23" width="4.00" height="4.00" fill="#fff" stroke="#77a1d8" stroke-width="1.2"/>
<rect x="402.39" y="72.98" width="4.00" height="4.00" fill="#fff" stroke="#739fd7" stroke-width="1.2"/>
<rect x="404.31" y="70.72" width="4.00" height="4.00" fill="#fff" stroke="#709cd6" stroke-width="1.2"/>
<rect x="406.24" y="68.47" width="4.00" height="4.00" fill="#fff" stroke="#6d9ad5" stroke-width="1.2"/>
<rect x="408.16" y="66.22" width="4.00" height="4.00" fill="#fff" stroke="#6997d4" stroke-width="1.2"/>
<rect x="410.07" y="63.95" width="4.00" height="4.00" fill="#fff" stroke="#5c8fd1" stroke-width="1.2"/>
<rect x="411.88" y="61.61" width="4.00" height="4.00" fill="#fff" stroke="#5087cf" stroke-width="1.2"/>
<rect x="413.68" y="59.26" width="4.00" height="4.00" fill="#fff" stroke="#4e85ce" stroke-width="1.2"/>
<rect x="415.63" y="57.03" width="4.00" height="4.00" fill="#fff" stroke="#4d84ce" stroke-width="1.2"/>
<rect x="417.68" y="54.89" width="4.00" height="4.00" fill="#fff" stroke="#4c83cd" stroke-width="1.2"/>
<rect x="419.81" y="52.86" width="4.00" height="4.00" fill="#fff" stroke="#4b81cc" stroke-width="1.2"/>
<rect x="422.50" y="51.63" width="4.00" height="4.00" fill="#fff" stroke="#487ec9" stroke-width="1.2"/>
<rect x="425.20" y="50.40" width="4.00" height="4.00" fill="#fff" stroke="#3d72bc" stroke-width="1.2"/>
<rect x="429.00" y="53.80" width="4.00" height="4.00" fill="#fff" stroke="#3a6fb8" stroke-width="1.2"/>
<rect x="432.50" y="55.20" width="4.00" height="4.00" fill="#fff" stroke="#3a6fb8" stroke-width="1.2"/>
<rect x="436.50" y="56.00" width="4.00" height="4.00" fill="#fff" stroke="#3a6fb8" stroke-width="1.2"/>
<rect x="439.50" y="56.40" width="4.00" height="4.00" fill="#fff" stroke="#3a6fb8" stroke-width="1.2"/>
<rect x="442.20" y="57.00" width="4.00" height="4.00" fill="#fff" stroke="#3a6fb8" stroke-width="1.2"/>
<text x="334.00" y="85.10" font-size="11.0" text-anchor="start" fill="#1a1a1a" >Control-A</text>
<text x="412.5" y="141" font-size="11" fill="#7030a0">In N<tspan font-size="7.5" dy="3">2</tspan></text>
<text x="177.0" y="141" font-size="11" fill="#7030a0">In N<tspan font-size="7.5" dy="3">2</tspan></text>
<text transform="translate(157.70,220.20) scale(1,1.1)" font-size="8.7" text-anchor="start" fill="#1a1a1a" >T/°C</text>
<text transform="translate(184.10,219.90) scale(1,1.1)" font-size="8.7" text-anchor="middle" fill="#1a1a1a" >275</text>
<circle cx="183.90" cy="225.90" r="2.85" fill="#7e2424"/>
<circle cx="183.90" cy="232.90" r="2.15" fill="#fff" stroke="#7e2424" stroke-width="1.4"/>
<text transform="translate(200.70,219.90) scale(1,1.1)" font-size="8.7" text-anchor="middle" fill="#1a1a1a" >250</text>
<circle cx="200.50" cy="225.90" r="2.85" fill="#a03030"/>
<circle cx="200.50" cy="232.90" r="2.15" fill="#fff" stroke="#a03030" stroke-width="1.4"/>
<text transform="translate(217.30,219.90) scale(1,1.1)" font-size="8.7" text-anchor="middle" fill="#1a1a1a" >225</text>
<circle cx="217.10" cy="225.90" r="2.85" fill="#b43a3a"/>
<circle cx="217.10" cy="232.90" r="2.15" fill="#fff" stroke="#b43a3a" stroke-width="1.4"/>
<text transform="translate(233.90,219.90) scale(1,1.1)" font-size="8.7" text-anchor="middle" fill="#1a1a1a" >200</text>
<circle cx="233.70" cy="225.90" r="2.85" fill="#c44545"/>
<circle cx="233.70" cy="232.90" r="2.15" fill="#fff" stroke="#c44545" stroke-width="1.4"/>
<text transform="translate(250.50,219.90) scale(1,1.1)" font-size="8.7" text-anchor="middle" fill="#1a1a1a" >175</text>
<circle cx="250.30" cy="225.90" r="2.85" fill="#cc5555"/>
<circle cx="250.30" cy="232.90" r="2.15" fill="#fff" stroke="#cc5555" stroke-width="1.4"/>
<text transform="translate(267.10,219.90) scale(1,1.1)" font-size="8.7" text-anchor="middle" fill="#1a1a1a" >150</text>
<circle cx="266.90" cy="225.90" r="2.85" fill="#d06666"/>
<circle cx="266.90" cy="232.90" r="2.15" fill="#fff" stroke="#d06666" stroke-width="1.4"/>
<text x="162.40" y="229.80" font-size="8.7" text-anchor="start" fill="#1a1a1a" >G'</text>
<text x="162.40" y="237.60" font-size="8.7" text-anchor="start" fill="#1a1a1a" >G"</text>
<text transform="translate(184.10,248.20) scale(1,1.1)" font-size="8.7" text-anchor="middle" fill="#1a1a1a" >125</text>
<circle cx="183.90" cy="254.50" r="2.85" fill="#d87070"/>
<circle cx="183.90" cy="261.70" r="2.15" fill="#fff" stroke="#d87070" stroke-width="1.4"/>
<text transform="translate(200.70,248.20) scale(1,1.1)" font-size="8.7" text-anchor="middle" fill="#1a1a1a" >100</text>
<circle cx="200.50" cy="254.50" r="2.85" fill="#dd8a8a"/>
<circle cx="200.50" cy="261.70" r="2.15" fill="#fff" stroke="#dd8a8a" stroke-width="1.4"/>
<text transform="translate(217.30,248.20) scale(1,1.1)" font-size="8.7" text-anchor="middle" fill="#1a1a1a" >75</text>
<circle cx="217.10" cy="254.50" r="2.85" fill="#e6b0b0"/>
<circle cx="217.10" cy="261.70" r="2.15" fill="#fff" stroke="#e6b0b0" stroke-width="1.4"/>
<text transform="translate(233.90,248.20) scale(1,1.1)" font-size="8.7" text-anchor="middle" fill="#1a1a1a" >50</text>
<circle cx="233.70" cy="254.50" r="2.85" fill="#ebc5c5"/>
<circle cx="233.70" cy="261.70" r="2.15" fill="#fff" stroke="#ebc5c5" stroke-width="1.4"/>
<text transform="translate(250.50,248.20) scale(1,1.1)" font-size="8.7" text-anchor="middle" fill="#1a1a1a" >25</text>
<circle cx="250.30" cy="254.50" r="2.85" fill="#f0dada"/>
<circle cx="250.30" cy="261.70" r="2.15" fill="#fff" stroke="#f3e0e0" stroke-width="1.4"/>
<text x="162.40" y="258.40" font-size="8.7" text-anchor="start" fill="#1a1a1a" >G'</text>
<text x="162.40" y="266.40" font-size="8.7" text-anchor="start" fill="#1a1a1a" >G"</text>
<circle cx="178.10" cy="343.70" r="2.35" fill="#fff" stroke="#7e2424" stroke-width="1.4"/>
<circle cx="179.87" cy="338.90" r="2.35" fill="#fff" stroke="#802525" stroke-width="1.4"/>
<circle cx="180.99" cy="333.91" r="2.35" fill="#fff" stroke="#812525" stroke-width="1.4"/>
<circle cx="183.39" cy="329.48" r="2.35" fill="#fff" stroke="#832626" stroke-width="1.4"/>
<circle cx="185.31" cy="324.73" r="2.35" fill="#fff" stroke="#842626" stroke-width="1.4"/>
<circle cx="186.39" cy="319.73" r="2.35" fill="#fff" stroke="#852626" stroke-width="1.4"/>
<circle cx="187.02" cy="314.65" r="2.35" fill="#fff" stroke="#862727" stroke-width="1.4"/>
<circle cx="188.60" cy="309.80" r="2.35" fill="#fff" stroke="#872727" stroke-width="1.4"/>
<circle cx="184.40" cy="342.30" r="3.05" fill="#7e2424"/>
<circle cx="185.00" cy="330.70" r="3.05" fill="#7e2424"/>
<circle cx="186.50" cy="315.00" r="3.05" fill="#7e2424"/>
<circle cx="188.60" cy="307.70" r="3.05" fill="#7e2424"/>
<circle cx="189.50" cy="305.50" r="3.05" fill="#882727"/>
<circle cx="191.41" cy="304.51" r="3.05" fill="#892828"/>
<circle cx="193.49" cy="304.20" r="3.05" fill="#8d2929"/>
<circle cx="195.64" cy="304.20" r="3.05" fill="#912a2a"/>
<circle cx="197.79" cy="304.20" r="3.05" fill="#962b2b"/>
<circle cx="199.94" cy="304.20" r="3.05" fill="#9a2c2c"/>
<circle cx="202.09" cy="304.20" r="3.05" fill="#9f2f2f"/>
<circle cx="204.25" cy="304.20" r="3.05" fill="#a33232"/>
<circle cx="206.40" cy="304.20" r="3.05" fill="#a83535"/>
<circle cx="208.55" cy="304.20" r="3.05" fill="#ad3838"/>
<circle cx="210.70" cy="304.25" r="3.05" fill="#b13b3b"/>
<circle cx="212.85" cy="304.33" r="3.05" fill="#b63e3e"/>
<circle cx="215.00" cy="304.40" r="3.05" fill="#ba4242"/>
<circle cx="217.16" cy="304.47" r="3.05" fill="#be4545"/>
<circle cx="219.31" cy="304.55" r="3.05" fill="#c14848"/>
<circle cx="221.46" cy="304.62" r="3.05" fill="#c34b4b"/>
<circle cx="223.61" cy="304.69" r="3.05" fill="#c44e4e"/>
<circle cx="225.76" cy="304.77" r="3.05" fill="#c65151"/>
<circle cx="227.91" cy="304.84" r="3.05" fill="#c85454"/>
<circle cx="230.06" cy="304.91" r="3.05" fill="#ca5757"/>
<circle cx="232.21" cy="304.99" r="3.05" fill="#cb5b5b"/>
<circle cx="234.36" cy="305.06" r="3.05" fill="#cd5e5e"/>
<circle cx="236.51" cy="305.14" r="3.05" fill="#cf6262"/>
<circle cx="238.66" cy="305.20" r="3.05" fill="#d16666"/>
<circle cx="240.82" cy="305.20" r="3.05" fill="#d36e6e"/>
<circle cx="242.97" cy="305.20" r="3.05" fill="#d67575"/>
<circle cx="245.12" cy="305.20" r="3.05" fill="#d87d7d"/>
<circle cx="247.27" cy="305.20" r="3.05" fill="#db8787"/>
<circle cx="249.42" cy="305.20" r="3.05" fill="#df9292"/>
<circle cx="251.58" cy="305.20" r="3.05" fill="#e29d9d"/>
<circle cx="253.73" cy="305.20" r="3.05" fill="#e6a9a9"/>
<circle cx="255.88" cy="305.20" r="3.05" fill="#e8b1b1"/>
<circle cx="257.96" cy="304.64" r="3.05" fill="#eab9b9"/>
<circle cx="260.04" cy="304.08" r="3.05" fill="#ecc1c1"/>
<circle cx="262.11" cy="303.51" r="3.05" fill="#eec8c8"/>
<circle cx="264.17" cy="302.90" r="3.05" fill="#efcccc"/>
<circle cx="266.05" cy="301.86" r="3.05" fill="#f0d0d0"/>
<circle cx="267.89" cy="300.76" r="3.05" fill="#f1d4d4"/>
<circle cx="269.55" cy="299.38" r="3.05" fill="#f2d7d7"/>
<circle cx="271.20" cy="298.00" r="3.05" fill="#f3dada"/>
<circle cx="190.50" cy="306.50" r="3.05" fill="#892828"/>
<circle cx="192.41" cy="305.96" r="3.05" fill="#8b2828"/>
<circle cx="194.37" cy="305.80" r="3.05" fill="#8f2929"/>
<circle cx="196.36" cy="305.80" r="3.05" fill="#932a2a"/>
<circle cx="198.34" cy="305.80" r="3.05" fill="#972b2b"/>
<circle cx="200.33" cy="305.80" r="3.05" fill="#9b2c2c"/>
<circle cx="202.31" cy="305.80" r="3.05" fill="#9f2f2f"/>
<circle cx="204.30" cy="305.80" r="3.05" fill="#a33232"/>
<circle cx="206.28" cy="305.80" r="3.05" fill="#a83535"/>
<circle cx="208.27" cy="305.80" r="3.05" fill="#ac3838"/>
<circle cx="210.25" cy="305.84" r="3.05" fill="#b13a3a"/>
<circle cx="212.24" cy="305.90" r="3.05" fill="#b43d3d"/>
<circle cx="214.22" cy="305.97" r="3.05" fill="#b84040"/>
<circle cx="216.20" cy="306.04" r="3.05" fill="#bc4343"/>
<circle cx="218.19" cy="306.11" r="3.05" fill="#c04646"/>
<circle cx="220.17" cy="306.18" r="3.05" fill="#c24949"/>
<circle cx="222.15" cy="306.24" r="3.05" fill="#c34c4c"/>
<circle cx="224.14" cy="306.31" r="3.05" fill="#c54f4f"/>
<circle cx="226.12" cy="306.38" r="3.05" fill="#c65151"/>
<circle cx="228.10" cy="306.45" r="3.05" fill="#c85454"/>
<circle cx="230.09" cy="306.52" r="3.05" fill="#ca5757"/>
<circle cx="232.07" cy="306.58" r="3.05" fill="#cb5b5b"/>
<circle cx="234.06" cy="306.65" r="3.05" fill="#cd5e5e"/>
<circle cx="236.04" cy="306.72" r="3.05" fill="#ce6161"/>
<circle cx="238.02" cy="306.79" r="3.05" fill="#d06464"/>
<circle cx="240.01" cy="306.78" r="3.05" fill="#d26b6b"/>
<circle cx="241.99" cy="306.76" r="3.05" fill="#d47272"/>
<circle cx="243.98" cy="306.74" r="3.05" fill="#d77979"/>
<circle cx="245.96" cy="306.71" r="3.05" fill="#d98080"/>
<circle cx="247.95" cy="306.69" r="3.05" fill="#dc8a8a"/>
<circle cx="249.93" cy="306.67" r="3.05" fill="#df9595"/>
<circle cx="251.92" cy="306.65" r="3.05" fill="#e39f9f"/>
<circle cx="253.90" cy="306.62" r="3.05" fill="#e6a9a9"/>
<circle cx="255.89" cy="306.60" r="3.05" fill="#e8b1b1"/>
<circle cx="257.80" cy="306.07" r="3.05" fill="#eab8b8"/>
<circle cx="259.71" cy="305.53" r="3.05" fill="#ecbfbf"/>
<circle cx="261.62" cy="304.99" r="3.05" fill="#eec7c7"/>
<circle cx="263.49" cy="304.35" r="3.05" fill="#efcbcb"/>
<circle cx="265.24" cy="303.42" r="3.05" fill="#f0cece"/>
<circle cx="267.00" cy="302.50" r="3.05" fill="#f0d2d2"/>
<circle cx="188.80" cy="309.00" r="2.35" fill="#fff" stroke="#872727" stroke-width="1.4"/>
<circle cx="191.92" cy="311.88" r="2.35" fill="#fff" stroke="#8a2828" stroke-width="1.4"/>
<circle cx="195.87" cy="312.60" r="2.35" fill="#fff" stroke="#922a2a" stroke-width="1.4"/>
<circle cx="199.14" cy="314.94" r="2.35" fill="#fff" stroke="#982c2c" stroke-width="1.4"/>
<circle cx="202.14" cy="317.94" r="2.35" fill="#fff" stroke="#9f2f2f" stroke-width="1.4"/>
<circle cx="205.14" cy="320.94" r="2.35" fill="#fff" stroke="#a53333" stroke-width="1.4"/>
<circle cx="208.30" cy="323.74" r="2.35" fill="#fff" stroke="#ac3838" stroke-width="1.4"/>
<circle cx="211.73" cy="326.23" r="2.35" fill="#fff" stroke="#b33d3d" stroke-width="1.4"/>
<circle cx="215.72" cy="327.60" r="2.35" fill="#fff" stroke="#bb4343" stroke-width="1.4"/>
<circle cx="219.75" cy="328.09" r="2.35" fill="#fff" stroke="#c14848" stroke-width="1.4"/>
<circle cx="223.69" cy="326.54" r="2.35" fill="#fff" stroke="#c54e4e" stroke-width="1.4"/>
<circle cx="227.79" cy="325.47" r="2.35" fill="#fff" stroke="#c85454" stroke-width="1.4"/>
<circle cx="231.90" cy="324.42" r="2.35" fill="#fff" stroke="#cb5a5a" stroke-width="1.4"/>
<circle cx="236.01" cy="323.40" r="2.35" fill="#fff" stroke="#ce6161" stroke-width="1.4"/>
<circle cx="240.08" cy="322.21" r="2.35" fill="#fff" stroke="#d26b6b" stroke-width="1.4"/>
<circle cx="244.08" cy="320.80" r="2.35" fill="#fff" stroke="#d77979" stroke-width="1.4"/>
<circle cx="248.07" cy="319.39" r="2.35" fill="#fff" stroke="#dc8b8b" stroke-width="1.4"/>
<circle cx="251.67" cy="317.17" r="2.35" fill="#fff" stroke="#e29e9e" stroke-width="1.4"/>
<circle cx="255.21" cy="314.84" r="2.35" fill="#fff" stroke="#e7afaf" stroke-width="1.4"/>
<circle cx="258.66" cy="312.38" r="2.35" fill="#fff" stroke="#ebbbbb" stroke-width="1.4"/>
<circle cx="261.96" cy="309.72" r="2.35" fill="#fff" stroke="#eec8c8" stroke-width="1.4"/>
<circle cx="265.20" cy="307.00" r="2.35" fill="#fff" stroke="#f0cece" stroke-width="1.4"/>
<circle cx="268.20" cy="304.00" r="2.35" fill="#fff" stroke="#f1d4d4" stroke-width="1.4"/>
<circle cx="271.20" cy="301.00" r="2.35" fill="#fff" stroke="#f3dada" stroke-width="1.4"/>
<text x="219.20" y="293.60" font-size="10.8" text-anchor="start" fill="#1a1a1a" >IC-CAN</text>
<text x="275.70" y="273.10" font-size="10.0" text-anchor="start" fill="#8a8a8a" >Unreachable</text>
<text x="292.50" y="284.70" font-size="10.0" text-anchor="start" fill="#8a8a8a" >area</text>
<text x="288.5" y="338.7" font-size="10.7" fill="#7030a0">In CO<tspan font-size="7.3" dy="2.8">2</tspan></text>
<path d="M504.70 151.50v2.8M511.57 151.50v2.8M518.44 151.50v2.8M525.31 151.50v2.8M532.18 151.50v2.8M539.05 151.50v2.8M545.92 151.50v2.8M552.79 151.50v2.8M559.66 151.50v2.8M566.53 151.50v2.8M573.40 151.50v2.8M580.27 151.50v2.8M587.14 151.50v2.8M594.01 151.50v2.8M600.88 151.50v2.8M607.75 151.50v2.8M614.62 151.50v2.8M621.49 151.50v2.8M628.36 151.50v2.8M635.23 151.50v2.8M642.10 151.50v2.8M648.97 151.50v2.8M655.84 151.50v2.8M662.71 151.50v2.8M669.58 151.50v2.8M676.45 151.50v2.8M683.32 151.50v2.8" stroke="#111" stroke-width="1.0"/>
<text x="505.10" y="166.50" font-size="10.5" text-anchor="middle" fill="#1a1a1a">10<tspan font-size="6.8" dy="-4.1">-15</tspan></text>
<text x="532.58" y="166.50" font-size="10.5" text-anchor="middle" fill="#1a1a1a">10<tspan font-size="6.8" dy="-4.1">-11</tspan></text>
<text x="560.06" y="166.50" font-size="10.5" text-anchor="middle" fill="#1a1a1a">10<tspan font-size="6.8" dy="-4.1">-7</tspan></text>
<text x="587.54" y="166.50" font-size="10.5" text-anchor="middle" fill="#1a1a1a">10<tspan font-size="6.8" dy="-4.1">-3</tspan></text>
<text x="615.02" y="166.50" font-size="10.5" text-anchor="middle" fill="#1a1a1a">10<tspan font-size="6.8" dy="-4.1">1</tspan></text>
<text x="642.50" y="166.50" font-size="10.5" text-anchor="middle" fill="#1a1a1a">10<tspan font-size="6.8" dy="-4.1">5</tspan></text>
<text x="669.98" y="166.50" font-size="10.5" text-anchor="middle" fill="#1a1a1a">10<tspan font-size="6.8" dy="-4.1">9</tspan></text>
<path d="M504.50 151.30h-2.8M504.50 129.80h-2.8M504.50 108.30h-2.8M504.50 86.80h-2.8M504.50 65.30h-2.8M504.50 43.80h-2.8M504.50 22.30h-2.8" stroke="#111" stroke-width="1.0"/>
<path d="M504.50 144.83h-1.4M504.50 141.04h-1.4M504.50 138.36h-1.4M504.50 136.27h-1.4M504.50 134.57h-1.4M504.50 133.13h-1.4M504.50 131.88h-1.4M504.50 130.78h-1.4M504.50 123.33h-1.4M504.50 119.54h-1.4M504.50 116.86h-1.4M504.50 114.77h-1.4M504.50 113.07h-1.4M504.50 111.63h-1.4M504.50 110.38h-1.4M504.50 109.28h-1.4M504.50 101.83h-1.4M504.50 98.04h-1.4M504.50 95.36h-1.4M504.50 93.27h-1.4M504.50 91.57h-1.4M504.50 90.13h-1.4M504.50 88.88h-1.4M504.50 87.78h-1.4M504.50 80.33h-1.4M504.50 76.54h-1.4M504.50 73.86h-1.4M504.50 71.77h-1.4M504.50 70.07h-1.4M504.50 68.63h-1.4M504.50 67.38h-1.4M504.50 66.28h-1.4M504.50 58.83h-1.4M504.50 55.04h-1.4M504.50 52.36h-1.4M504.50 50.27h-1.4M504.50 48.57h-1.4M504.50 47.13h-1.4M504.50 45.88h-1.4M504.50 44.78h-1.4M504.50 37.33h-1.4M504.50 33.54h-1.4M504.50 30.86h-1.4M504.50 28.77h-1.4M504.50 27.07h-1.4M504.50 25.63h-1.4M504.50 24.38h-1.4M504.50 23.28h-1.4M504.50 15.83h-1.4M504.50 12.04h-1.4M504.50 9.36h-1.4" stroke="#111" stroke-width="0.8"/>
<text x="500.50" y="26.60" font-size="10.5" text-anchor="end" fill="#1a1a1a">10<tspan font-size="6.8" dy="-4.1">3</tspan></text>
<text x="500.50" y="69.60" font-size="10.5" text-anchor="end" fill="#1a1a1a">10<tspan font-size="6.8" dy="-4.1">1</tspan></text>
<text x="500.50" y="112.60" font-size="10.5" text-anchor="end" fill="#1a1a1a">10<tspan font-size="6.8" dy="-4.1">-1</tspan></text>
<text x="500.50" y="155.60" font-size="10.5" text-anchor="end" fill="#1a1a1a">10<tspan font-size="6.8" dy="-4.1">-3</tspan></text>
<rect x="504.50" y="7.50" width="179.70" height="144.00" fill="none" stroke="#111" stroke-width="1.4"/>
<text x="0" y="0" font-size="10.2" text-anchor="middle" fill="#1a1a1a" transform="translate(481.2,80.0) rotate(-90)">tan δ</text>
<text x="594.60" y="179.30" font-size="10.35" text-anchor="middle" fill="#1a1a1a" >Shifted Angular Frequency (rad/s)</text>
<text transform="translate(507.70,20.80) scale(1,1.1)" font-size="8.7" text-anchor="start" fill="#1a1a1a" >T/°C</text>
<text transform="translate(538.30,20.80) scale(1,1.1)" font-size="8.7" text-anchor="middle" fill="#1a1a1a" >125</text>
<circle cx="538.10" cy="26.30" r="2.85" fill="#c84848"/>
<rect x="536.10" y="31.40" width="4.00" height="4.00" fill="#fff" stroke="#d06060" stroke-width="1.2"/>
<text transform="translate(554.85,20.80) scale(1,1.1)" font-size="8.7" text-anchor="middle" fill="#1a1a1a" >100</text>
<circle cx="554.65" cy="26.30" r="2.85" fill="#d05a5a"/>
<rect x="552.65" y="31.40" width="4.00" height="4.00" fill="#fff" stroke="#d46a6a" stroke-width="1.2"/>
<text transform="translate(571.40,20.80) scale(1,1.1)" font-size="8.7" text-anchor="middle" fill="#1a1a1a" >75</text>
<circle cx="571.20" cy="26.30" r="2.85" fill="#d87272"/>
<rect x="569.20" y="31.40" width="4.00" height="4.00" fill="#fff" stroke="#e8b0b0" stroke-width="1.2"/>
<text transform="translate(587.95,20.80) scale(1,1.1)" font-size="8.7" text-anchor="middle" fill="#1a1a1a" >50</text>
<circle cx="587.75" cy="26.30" r="2.85" fill="#ebb5b5"/>
<rect x="585.75" y="31.40" width="4.00" height="4.00" fill="#fff" stroke="#efcfcf" stroke-width="1.2"/>
<text transform="translate(604.50,20.80) scale(1,1.1)" font-size="8.7" text-anchor="middle" fill="#1a1a1a" >25</text>
<circle cx="604.30" cy="26.30" r="2.85" fill="#efcfcf"/>
<rect x="602.30" y="31.40" width="4.00" height="4.00" fill="#fff" stroke="#f5e0e0" stroke-width="1.2"/>
<text transform="translate(621.05,20.80) scale(1,1.1)" font-size="8.7" text-anchor="middle" fill="#1a1a1a" >0</text>
<circle cx="620.85" cy="26.30" r="2.85" fill="#8eb2de"/>
<rect x="618.85" y="31.40" width="4.00" height="4.00" fill="#fff" stroke="#8eb2de" stroke-width="1.2"/>
<text transform="translate(637.60,20.80) scale(1,1.1)" font-size="8.7" text-anchor="middle" fill="#1a1a1a" >-20</text>
<circle cx="637.40" cy="26.30" r="2.85" fill="#75a0d8"/>
<rect x="635.40" y="31.40" width="4.00" height="4.00" fill="#fff" stroke="#7aa4da" stroke-width="1.2"/>
<text transform="translate(654.15,20.80) scale(1,1.1)" font-size="8.7" text-anchor="middle" fill="#1a1a1a" >-40</text>
<circle cx="653.95" cy="26.30" r="2.85" fill="#4a80cb"/>
<rect x="651.95" y="31.40" width="4.00" height="4.00" fill="#fff" stroke="#5a8dd0" stroke-width="1.2"/>
<text transform="translate(670.70,20.80) scale(1,1.1)" font-size="8.7" text-anchor="middle" fill="#1a1a1a" >-60</text>
<circle cx="670.50" cy="26.30" r="2.85" fill="#3a70c0"/>
<rect x="668.50" y="31.40" width="4.00" height="4.00" fill="#fff" stroke="#4a80cb" stroke-width="1.2"/>
<text transform="translate(621.05,45.90) scale(1,1.1)" font-size="8.7" text-anchor="middle" fill="#1a1a1a" >150</text>
<circle cx="620.85" cy="52.10" r="2.85" fill="#be3c3c"/>
<text transform="translate(637.60,45.90) scale(1,1.1)" font-size="8.7" text-anchor="middle" fill="#1a1a1a" >200</text>
<circle cx="637.40" cy="52.10" r="2.85" fill="#a83434"/>
<text transform="translate(654.15,45.90) scale(1,1.1)" font-size="8.7" text-anchor="middle" fill="#1a1a1a" >250</text>
<circle cx="653.95" cy="52.10" r="2.85" fill="#902a2a"/>
<text transform="translate(670.70,45.90) scale(1,1.1)" font-size="8.7" text-anchor="middle" fill="#1a1a1a" >300</text>
<circle cx="670.50" cy="52.10" r="2.85" fill="#7a2222"/>
<circle cx="524.90" cy="63.80" r="3.05" fill="#7a2222"/>
<circle cx="526.60" cy="75.90" r="3.05" fill="#7a2222"/>
<circle cx="528.10" cy="84.30" r="3.05" fill="#7a2222"/>
<circle cx="529.10" cy="94.40" r="3.05" fill="#7a2222"/>
<circle cx="530.60" cy="102.10" r="3.05" fill="#7a2222"/>
<circle cx="531.90" cy="108.00" r="3.05" fill="#7a2222"/>
<circle cx="541.80" cy="116.80" r="3.05" fill="#7a2222"/>
<circle cx="544.10" cy="118.60" r="3.05" fill="#7a2222"/>
<circle cx="548.80" cy="125.10" r="3.05" fill="#7a2222"/>
<circle cx="551.80" cy="132.50" r="3.05" fill="#7a2222"/>
<circle cx="559.50" cy="133.90" r="3.05" fill="#8b2929"/>
<circle cx="560.69" cy="132.22" r="3.05" fill="#8c2929"/>
<circle cx="561.88" cy="130.54" r="3.05" fill="#8c2929"/>
<circle cx="563.09" cy="128.87" r="3.05" fill="#8c2929"/>
<circle cx="564.32" cy="127.22" r="3.05" fill="#8d2929"/>
<circle cx="565.55" cy="125.57" r="3.05" fill="#8d2a2a"/>
<circle cx="567.17" cy="124.36" r="3.05" fill="#8e2a2a"/>
<circle cx="568.95" cy="123.33" r="3.05" fill="#922c2c"/>
<circle cx="570.72" cy="122.27" r="3.05" fill="#9a2f2f"/>
<circle cx="572.35" cy="121.02" r="3.05" fill="#a03333"/>
<circle cx="573.98" cy="119.76" r="3.05" fill="#a73636"/>
<circle cx="575.35" cy="118.27" r="3.05" fill="#ad3939"/>
<circle cx="576.41" cy="116.51" r="3.05" fill="#b13b3b"/>
<circle cx="577.46" cy="114.74" r="3.05" fill="#b43c3c"/>
<circle cx="578.72" cy="113.17" r="3.05" fill="#b73e3e"/>
<circle cx="580.45" cy="112.06" r="3.05" fill="#bc4141"/>
<circle cx="582.19" cy="110.95" r="3.05" fill="#c14444"/>
<circle cx="583.95" cy="109.88" r="3.05" fill="#c54646"/>
<circle cx="585.72" cy="108.83" r="3.05" fill="#c94b4b"/>
<circle cx="587.49" cy="107.78" r="3.05" fill="#cb5252"/>
<circle cx="589.26" cy="106.74" r="3.05" fill="#ce5959"/>
<circle cx="591.06" cy="105.73" r="3.05" fill="#d06161"/>
<circle cx="592.85" cy="104.72" r="3.05" fill="#d97f7f"/>
<circle cx="594.64" cy="103.71" r="3.05" fill="#e29e9e"/>
<circle cx="596.42" cy="102.67" r="3.05" fill="#e5a8a8"/>
<circle cx="598.17" cy="101.58" r="3.05" fill="#e7aeae"/>
<circle cx="599.91" cy="100.49" r="3.05" fill="#e8b3b3"/>
<circle cx="601.66" cy="99.39" r="3.05" fill="#eab8b8"/>
<circle cx="603.40" cy="98.30" r="3.05" fill="#ebbdbd"/>
<circle cx="605.15" cy="97.21" r="3.05" fill="#ecc1c1"/>
<circle cx="606.85" cy="96.06" r="3.05" fill="#edc5c5"/>
<circle cx="608.53" cy="94.87" r="3.05" fill="#eec8c8"/>
<circle cx="610.22" cy="93.69" r="3.05" fill="#efcccc"/>
<circle cx="611.90" cy="92.50" r="3.05" fill="#f0d0d0"/>
<circle cx="559.50" cy="133.90" r="3.05" fill="#8b2929"/>
<circle cx="560.69" cy="132.22" r="3.05" fill="#8c2929"/>
<circle cx="561.88" cy="130.54" r="3.05" fill="#8c2929"/>
<circle cx="563.09" cy="128.88" r="3.05" fill="#8c2929"/>
<circle cx="564.31" cy="127.23" r="3.05" fill="#8d2929"/>
<circle cx="565.54" cy="125.58" r="3.05" fill="#8d2a2a"/>
<circle cx="567.24" cy="124.53" r="3.05" fill="#8e2a2a"/>
<circle cx="569.13" cy="123.72" r="3.05" fill="#932c2c"/>
<circle cx="571.02" cy="122.91" r="3.05" fill="#9b3030"/>
<circle cx="572.87" cy="122.01" r="3.05" fill="#a33434"/>
<circle cx="574.72" cy="121.12" r="3.05" fill="#ab3737"/>
<circle cx="576.35" cy="119.95" r="3.05" fill="#b13b3b"/>
<circle cx="577.56" cy="118.29" r="3.05" fill="#b43c3c"/>
<circle cx="578.77" cy="116.63" r="3.05" fill="#b73e3e"/>
<circle cx="580.15" cy="115.15" r="3.05" fill="#bb4040"/>
<circle cx="581.89" cy="114.04" r="3.05" fill="#c04343"/>
<circle cx="583.62" cy="112.93" r="3.05" fill="#c44646"/>
<circle cx="585.38" cy="111.86" r="3.05" fill="#c94a4a"/>
<circle cx="587.14" cy="110.81" r="3.05" fill="#cb5151"/>
<circle cx="588.91" cy="109.76" r="3.05" fill="#cd5858"/>
<circle cx="590.69" cy="108.73" r="3.05" fill="#d05f5f"/>
<circle cx="592.48" cy="107.72" r="3.05" fill="#d77979"/>
<circle cx="594.27" cy="106.71" r="3.05" fill="#e09898"/>
<circle cx="596.06" cy="105.70" r="3.05" fill="#e5a7a7"/>
<circle cx="597.84" cy="104.66" r="3.05" fill="#e6adad"/>
<circle cx="599.58" cy="103.57" r="3.05" fill="#e8b2b2"/>
<circle cx="601.33" cy="102.48" r="3.05" fill="#eab7b7"/>
<circle cx="603.07" cy="101.39" r="3.05" fill="#ebbcbc"/>
<circle cx="604.81" cy="100.30" r="3.05" fill="#ecc0c0"/>
<circle cx="606.55" cy="99.20" r="3.05" fill="#edc4c4"/>
<circle cx="608.26" cy="98.05" r="3.05" fill="#eec8c8"/>
<circle cx="609.94" cy="96.87" r="3.05" fill="#efcbcb"/>
<circle cx="611.62" cy="95.68" r="3.05" fill="#f0cfcf"/>
<circle cx="613.30" cy="94.50" r="3.05" fill="#f0d0d0"/>
<circle cx="612.60" cy="90.10" r="3.05" fill="#99b8e2"/>
<circle cx="614.56" cy="89.57" r="3.05" fill="#95b6e0"/>
<circle cx="616.52" cy="89.04" r="3.05" fill="#91b4df"/>
<circle cx="618.48" cy="88.51" r="3.05" fill="#8eb2de"/>
<circle cx="620.45" cy="88.05" r="3.05" fill="#8db1de"/>
<circle cx="622.46" cy="87.82" r="3.05" fill="#8cb0de"/>
<circle cx="624.48" cy="87.59" r="3.05" fill="#8bafdd"/>
<circle cx="626.50" cy="87.36" r="3.05" fill="#8bafdd"/>
<circle cx="628.52" cy="87.32" r="3.05" fill="#89addd"/>
<circle cx="630.55" cy="87.34" r="3.05" fill="#83aadb"/>
<circle cx="632.58" cy="87.37" r="3.05" fill="#7ea6da"/>
<circle cx="634.61" cy="87.40" r="3.05" fill="#79a2d9"/>
<circle cx="636.60" cy="87.74" r="3.05" fill="#749fd8"/>
<circle cx="638.58" cy="88.17" r="3.05" fill="#6f9cd6"/>
<circle cx="640.57" cy="88.59" r="3.05" fill="#6b99d5"/>
<circle cx="642.52" cy="89.12" r="3.05" fill="#6696d4"/>
<circle cx="644.39" cy="89.90" r="3.05" fill="#6293d2"/>
<circle cx="646.27" cy="90.68" r="3.05" fill="#5e90d1"/>
<circle cx="648.14" cy="91.47" r="3.05" fill="#5a8dd0"/>
<circle cx="649.95" cy="92.38" r="3.05" fill="#568acf"/>
<circle cx="651.77" cy="93.28" r="3.05" fill="#5287ce"/>
<circle cx="653.58" cy="94.19" r="3.05" fill="#4f84cd"/>
<circle cx="655.40" cy="95.10" r="3.05" fill="#4b81cb"/>
<circle cx="657.21" cy="96.01" r="3.05" fill="#497fca"/>
<circle cx="659.03" cy="96.91" r="3.05" fill="#487ec9"/>
<circle cx="660.84" cy="97.82" r="3.05" fill="#467cc9"/>
<circle cx="662.69" cy="98.63" r="3.05" fill="#457bc8"/>
<circle cx="664.62" cy="99.28" r="3.05" fill="#4379c7"/>
<circle cx="666.54" cy="99.93" r="3.05" fill="#4177c5"/>
<circle cx="668.46" cy="100.58" r="3.05" fill="#3d73c2"/>
<circle cx="670.34" cy="101.32" r="3.05" fill="#3a70c0"/>
<circle cx="672.05" cy="102.41" r="3.05" fill="#3a70c0"/>
<circle cx="673.77" cy="103.50" r="3.05" fill="#3a70c0"/>
<circle cx="675.48" cy="104.59" r="3.05" fill="#3a70c0"/>
<circle cx="676.49" cy="106.34" r="3.05" fill="#3a70c0"/>
<circle cx="677.50" cy="108.10" r="3.05" fill="#3a70c0"/>
<circle cx="612.60" cy="91.90" r="3.05" fill="#99b8e2"/>
<circle cx="614.56" cy="91.37" r="3.05" fill="#95b6e0"/>
<circle cx="616.52" cy="90.84" r="3.05" fill="#91b4df"/>
<circle cx="618.48" cy="90.31" r="3.05" fill="#8eb2de"/>
<circle cx="620.45" cy="89.85" r="3.05" fill="#8db1de"/>
<circle cx="622.46" cy="89.62" r="3.05" fill="#8cb0de"/>
<circle cx="624.48" cy="89.39" r="3.05" fill="#8bafdd"/>
<circle cx="626.50" cy="89.16" r="3.05" fill="#8bafdd"/>
<circle cx="628.52" cy="89.12" r="3.05" fill="#89addd"/>
<circle cx="630.55" cy="89.14" r="3.05" fill="#83aadb"/>
<circle cx="632.58" cy="89.17" r="3.05" fill="#7ea6da"/>
<circle cx="634.61" cy="89.20" r="3.05" fill="#79a2d9"/>
<circle cx="636.60" cy="89.54" r="3.05" fill="#749fd8"/>
<circle cx="638.58" cy="89.97" r="3.05" fill="#6f9cd6"/>
<circle cx="640.57" cy="90.39" r="3.05" fill="#6b99d5"/>
<circle cx="642.52" cy="90.92" r="3.05" fill="#6696d4"/>
<circle cx="644.39" cy="91.70" r="3.05" fill="#6293d2"/>
<circle cx="646.27" cy="92.48" r="3.05" fill="#5e90d1"/>
<circle cx="648.14" cy="93.27" r="3.05" fill="#5a8dd0"/>
<circle cx="649.95" cy="94.18" r="3.05" fill="#568acf"/>
<circle cx="651.77" cy="95.08" r="3.05" fill="#5287ce"/>
<circle cx="653.58" cy="95.99" r="3.05" fill="#4f84cd"/>
<circle cx="655.40" cy="96.90" r="3.05" fill="#4b81cb"/>
<circle cx="657.21" cy="97.81" r="3.05" fill="#497fca"/>
<circle cx="659.03" cy="98.71" r="3.05" fill="#487ec9"/>
<circle cx="660.84" cy="99.62" r="3.05" fill="#467cc9"/>
<circle cx="662.69" cy="100.43" r="3.05" fill="#457bc8"/>
<circle cx="664.62" cy="101.08" r="3.05" fill="#4379c7"/>
<circle cx="666.54" cy="101.73" r="3.05" fill="#4177c5"/>
<circle cx="668.46" cy="102.38" r="3.05" fill="#3d73c2"/>
<circle cx="670.34" cy="103.12" r="3.05" fill="#3a70c0"/>
<circle cx="672.05" cy="104.21" r="3.05" fill="#3a70c0"/>
<circle cx="673.77" cy="105.30" r="3.05" fill="#3a70c0"/>
<circle cx="675.48" cy="106.39" r="3.05" fill="#3a70c0"/>
<circle cx="676.49" cy="108.14" r="3.05" fill="#3a70c0"/>
<circle cx="677.50" cy="109.90" r="3.05" fill="#3a70c0"/>
<rect x="568.70" y="50.70" width="4.00" height="4.00" fill="#fff" stroke="#d06060" stroke-width="1.2"/>
<rect x="569.40" y="62.40" width="4.00" height="4.00" fill="#fff" stroke="#d06060" stroke-width="1.2"/>
<rect x="571.10" y="74.40" width="4.00" height="4.00" fill="#fff" stroke="#d06060" stroke-width="1.2"/>
<rect x="572.60" y="80.20" width="4.00" height="4.00" fill="#fff" stroke="#d06060" stroke-width="1.2"/>
<rect x="575.10" y="87.20" width="4.00" height="4.00" fill="#fff" stroke="#d06060" stroke-width="1.2"/>
<rect x="576.50" y="91.50" width="4.00" height="4.00" fill="#fff" stroke="#d06060" stroke-width="1.2"/>
<rect x="577.50" y="95.00" width="4.00" height="4.00" fill="#fff" stroke="#d06060" stroke-width="1.2"/>
<rect x="578.20" y="99.00" width="4.00" height="4.00" fill="#fff" stroke="#d06060" stroke-width="1.2"/>
<rect x="582.90" y="106.00" width="4.00" height="4.00" fill="#fff" stroke="#da7777" stroke-width="1.2"/>
<rect x="583.50" y="109.70" width="4.00" height="4.00" fill="#fff" stroke="#db7c7c" stroke-width="1.2"/>
<rect x="587.60" y="114.90" width="4.00" height="4.00" fill="#fff" stroke="#e39d9d" stroke-width="1.2"/>
<rect x="590.80" y="117.50" width="4.00" height="4.00" fill="#fff" stroke="#e6a9a9" stroke-width="1.2"/>
<rect x="594.40" y="117.50" width="4.00" height="4.00" fill="#fff" stroke="#e9b4b4" stroke-width="1.2"/>
<rect x="598.10" y="114.90" width="4.00" height="4.00" fill="#fff" stroke="#ecc0c0" stroke-width="1.2"/>
<rect x="601.20" y="113.30" width="4.00" height="4.00" fill="#fff" stroke="#eec7c7" stroke-width="1.2"/>
<rect x="604.40" y="111.20" width="4.00" height="4.00" fill="#fff" stroke="#f0cfcf" stroke-width="1.2"/>
<rect x="607.50" y="109.20" width="4.00" height="4.00" fill="#fff" stroke="#f2d6d6" stroke-width="1.2"/>
<rect x="610.10" y="107.10" width="4.00" height="4.00" fill="#fff" stroke="#eddadc" stroke-width="1.2"/>
<rect x="612.30" y="100.60" width="4.00" height="4.00" fill="#fff" stroke="#99b9e2" stroke-width="1.2"/>
<rect x="614.00" y="97.90" width="4.00" height="4.00" fill="#fff" stroke="#98b8e1" stroke-width="1.2"/>
<rect x="615.80" y="95.70" width="4.00" height="4.00" fill="#fff" stroke="#97b7e1" stroke-width="1.2"/>
<rect x="618.00" y="93.40" width="4.00" height="4.00" fill="#fff" stroke="#95b6e0" stroke-width="1.2"/>
<rect x="619.80" y="91.20" width="4.00" height="4.00" fill="#fff" stroke="#94b5e0" stroke-width="1.2"/>
<rect x="626.50" y="81.80" width="4.00" height="4.00" fill="#fff" stroke="#8fb3de" stroke-width="1.2"/>
<rect x="630.10" y="80.90" width="4.00" height="4.00" fill="#fff" stroke="#8bb0dd" stroke-width="1.2"/>
<rect x="633.70" y="79.60" width="4.00" height="4.00" fill="#fff" stroke="#86addc" stroke-width="1.2"/>
<rect x="637.30" y="79.10" width="4.00" height="4.00" fill="#fff" stroke="#82a9dc" stroke-width="1.2"/>
<rect x="640.40" y="79.60" width="4.00" height="4.00" fill="#fff" stroke="#7da6db" stroke-width="1.2"/>
<rect x="643.70" y="80.10" width="4.00" height="4.00" fill="#fff" stroke="#78a3d9" stroke-width="1.2"/>
<rect x="647.20" y="82.90" width="4.00" height="4.00" fill="#fff" stroke="#6e9bd6" stroke-width="1.2"/>
<rect x="650.10" y="85.20" width="4.00" height="4.00" fill="#fff" stroke="#6595d4" stroke-width="1.2"/>
<rect x="652.90" y="87.00" width="4.00" height="4.00" fill="#fff" stroke="#5d8fd1" stroke-width="1.2"/>
<rect x="655.80" y="89.90" width="4.00" height="4.00" fill="#fff" stroke="#588bcf" stroke-width="1.2"/>
<rect x="658.70" y="93.90" width="4.00" height="4.00" fill="#fff" stroke="#5488ce" stroke-width="1.2"/>
<rect x="661.00" y="102.00" width="4.00" height="4.00" fill="#fff" stroke="#5185cd" stroke-width="1.2"/>
<rect x="664.50" y="104.30" width="4.00" height="4.00" fill="#fff" stroke="#4c82cc" stroke-width="1.2"/>
<rect x="667.90" y="108.30" width="4.00" height="4.00" fill="#fff" stroke="#4a80cb" stroke-width="1.2"/>
<rect x="671.50" y="109.50" width="4.00" height="4.00" fill="#fff" stroke="#4a80cb" stroke-width="1.2"/>
<rect x="675.40" y="110.00" width="4.00" height="4.00" fill="#fff" stroke="#4a80cb" stroke-width="1.2"/>
<path d="M598.1 98 L595.0 91.6" stroke="#000" stroke-width="1.2"/>
<path d="M591.8 83.9 L591.0 93.3 L599.2 90.6 Z" fill="#000"/>
<path d="M614 112.9 L621.0 119.0" stroke="#000" stroke-width="1.2"/>
<path d="M627.8 124.6 L618.0 121.9 L623.9 116.0 Z" fill="#000"/>
<text x="581.60" y="82.20" font-size="10.9" text-anchor="start" fill="#1a1a1a" >IC-CAN</text>
<text x="614.80" y="134.60" font-size="11.0" text-anchor="start" fill="#1a1a1a" >Control-A</text>
<path d="M398.90 349.40v2.8M456.10 349.40v2.8M513.30 349.40v2.8M570.50 349.40v2.8" stroke="#111" stroke-width="1.0"/>
<path d="M416.12 349.40v1.5M426.19 349.40v1.5M433.34 349.40v1.5M438.88 349.40v1.5M443.41 349.40v1.5M447.24 349.40v1.5M450.56 349.40v1.5M453.48 349.40v1.5M473.32 349.40v1.5M483.39 349.40v1.5M490.54 349.40v1.5M496.08 349.40v1.5M500.61 349.40v1.5M504.44 349.40v1.5M507.76 349.40v1.5M510.68 349.40v1.5M530.52 349.40v1.5M540.59 349.40v1.5M547.74 349.40v1.5M553.28 349.40v1.5M557.81 349.40v1.5M561.64 349.40v1.5M564.96 349.40v1.5M567.88 349.40v1.5" stroke="#111" stroke-width="0.8"/>
<text x="399.30" y="365.00" font-size="10.5" text-anchor="middle" fill="#1a1a1a">10<tspan font-size="6.8" dy="-4.1">-1</tspan></text>
<text x="456.50" y="365.00" font-size="10.5" text-anchor="middle" fill="#1a1a1a">10<tspan font-size="6.8" dy="-4.1">0</tspan></text>
<text x="513.70" y="365.00" font-size="10.5" text-anchor="middle" fill="#1a1a1a">10<tspan font-size="6.8" dy="-4.1">1</tspan></text>
<text x="570.90" y="365.00" font-size="10.5" text-anchor="middle" fill="#1a1a1a">10<tspan font-size="6.8" dy="-4.1">2</tspan></text>
<path d="M398.90 332.25h-2.8M398.90 274.00h-2.8M398.90 215.75h-2.8" stroke="#111" stroke-width="1.0"/>
<path d="M398.90 345.17h-1.5M398.90 341.27h-1.5M398.90 337.90h-1.5M398.90 334.92h-1.5M398.90 314.72h-1.5M398.90 304.46h-1.5M398.90 297.18h-1.5M398.90 291.53h-1.5M398.90 286.92h-1.5M398.90 283.02h-1.5M398.90 279.65h-1.5M398.90 276.67h-1.5M398.90 256.47h-1.5M398.90 246.21h-1.5M398.90 238.93h-1.5M398.90 233.28h-1.5M398.90 228.67h-1.5M398.90 224.77h-1.5M398.90 221.40h-1.5M398.90 218.42h-1.5" stroke="#111" stroke-width="0.8"/>
<text x="394.90" y="220.05" font-size="10.5" text-anchor="end" fill="#1a1a1a">10<tspan font-size="6.8" dy="-4.1">6</tspan></text>
<text x="394.90" y="278.30" font-size="10.5" text-anchor="end" fill="#1a1a1a">10<tspan font-size="6.8" dy="-4.1">5</tspan></text>
<text x="394.90" y="336.55" font-size="10.5" text-anchor="end" fill="#1a1a1a">10<tspan font-size="6.8" dy="-4.1">4</tspan></text>
<rect x="398.90" y="205.40" width="179.40" height="144.00" fill="none" stroke="#111" stroke-width="1.4"/>
<text x="0" y="0" font-size="10.6" text-anchor="middle" fill="#1a1a1a" transform="translate(373.3,276.9) rotate(-90)">Modulus (Pa)</text>
<text x="488.90" y="377.30" font-size="10.35" text-anchor="middle" fill="#1a1a1a" >Shifted Angular Frequency (rad/s)</text>
<text x="404.0" y="216.2" font-size="9.0" fill="#1a1a1a">The fraction of CO<tspan font-size="6" dy="2">2</tspan><tspan dy="-2"> in CO</tspan><tspan font-size="6" dy="2">2</tspan><tspan dy="-2">/N</tspan><tspan font-size="6" dy="2">2</tspan><tspan dy="-2"> mixture</tspan></text>
<text transform="translate(426.50,226.80) scale(1,1.08)" font-size="8.8" text-anchor="middle" fill="#1a1a1a" >100 %</text>
<text transform="translate(457.10,226.80) scale(1,1.08)" font-size="8.8" text-anchor="middle" fill="#1a1a1a" >50 %</text>
<text transform="translate(487.30,226.80) scale(1,1.08)" font-size="8.8" text-anchor="middle" fill="#1a1a1a" >25 %</text>
<text transform="translate(516.00,226.80) scale(1,1.08)" font-size="8.8" text-anchor="middle" fill="#1a1a1a" >0 %</text>
<text x="403.80" y="235.80" font-size="8.8" text-anchor="start" fill="#1a1a1a" >G'</text>
<text x="403.80" y="245.00" font-size="8.8" text-anchor="start" fill="#1a1a1a" >G"</text>
<path d="M424.70 229.00L428.40 235.10L421.00 235.10Z" fill="#dc6262"/>
<path transform="translate(424.70,241.00) scale(0.9)" d="M0.00 -3.40L3.70 2.70L-3.70 2.70Z" fill="#fff" stroke="#dc6262" stroke-width="1.11" stroke-linejoin="miter"/>
<path d="M454.70 228.95L453.79 231.45L451.13 231.54L453.23 233.18L452.50 235.73L454.70 234.25L456.90 235.73L456.17 233.18L458.27 231.54L455.61 231.45Z" fill="#5aa02c"/>
<path transform="translate(454.70,241.00) scale(0.9)" d="M0.00 -3.45L-0.91 -0.95L-3.57 -0.86L-1.47 0.78L-2.20 3.33L-0.00 1.85L2.20 3.33L1.47 0.78L3.57 -0.86L0.91 -0.95Z" fill="#fff" stroke="#5aa02c" stroke-width="1.00" stroke-linejoin="miter"/>
<path d="M485.00 228.60L488.50 232.40L485.00 236.20L481.50 232.40Z" fill="#8868d0"/>
<path transform="translate(485.00,241.00) scale(0.9)" d="M0.00 -3.80L3.50 0.00L0.00 3.80L-3.50 0.00Z" fill="#fff" stroke="#8868d0" stroke-width="1.11" stroke-linejoin="miter"/>
<path d="M515.10 229.05L512.20 230.72L512.20 234.08L515.10 235.75L518.00 234.08L518.00 230.72Z" fill="#4a86d0"/>
<path transform="translate(515.10,241.00) scale(0.9)" d="M0.00 -3.35L-2.90 -1.67L-2.90 1.68L-0.00 3.35L2.90 1.68L2.90 -1.68Z" fill="#fff" stroke="#4a86d0" stroke-width="1.11" stroke-linejoin="miter"/>
<path d="M410.30 281.10L414.00 287.20L406.60 287.20Z" fill="#dc6262"/>
<path transform="translate(410.30,332.80) scale(0.9)" d="M0.00 -3.40L3.70 2.70L-3.70 2.70Z" fill="#fff" stroke="#dc6262" stroke-width="1.11" stroke-linejoin="miter"/>
<path d="M421.74 281.10L425.44 287.20L418.04 287.20Z" fill="#dc6262"/>
<path transform="translate(421.74,330.90) scale(0.9)" d="M0.00 -3.40L3.70 2.70L-3.70 2.70Z" fill="#fff" stroke="#dc6262" stroke-width="1.11" stroke-linejoin="miter"/>
<path d="M433.18 279.90L436.88 286.00L429.48 286.00Z" fill="#dc6262"/>
<path transform="translate(433.18,328.50) scale(0.9)" d="M0.00 -3.40L3.70 2.70L-3.70 2.70Z" fill="#fff" stroke="#dc6262" stroke-width="1.11" stroke-linejoin="miter"/>
<path d="M444.62 278.70L448.32 284.80L440.92 284.80Z" fill="#dc6262"/>
<path transform="translate(444.62,325.00) scale(0.9)" d="M0.00 -3.40L3.70 2.70L-3.70 2.70Z" fill="#fff" stroke="#dc6262" stroke-width="1.11" stroke-linejoin="miter"/>
<path d="M456.06 278.00L459.76 284.10L452.36 284.10Z" fill="#dc6262"/>
<path transform="translate(456.06,321.70) scale(0.9)" d="M0.00 -3.40L3.70 2.70L-3.70 2.70Z" fill="#fff" stroke="#dc6262" stroke-width="1.11" stroke-linejoin="miter"/>
<path d="M467.50 276.60L471.20 282.70L463.80 282.70Z" fill="#dc6262"/>
<path transform="translate(467.50,317.40) scale(0.9)" d="M0.00 -3.40L3.70 2.70L-3.70 2.70Z" fill="#fff" stroke="#dc6262" stroke-width="1.11" stroke-linejoin="miter"/>
<path d="M478.94 275.60L482.64 281.70L475.24 281.70Z" fill="#dc6262"/>
<path transform="translate(478.94,313.40) scale(0.9)" d="M0.00 -3.40L3.70 2.70L-3.70 2.70Z" fill="#fff" stroke="#dc6262" stroke-width="1.11" stroke-linejoin="miter"/>
<path d="M490.38 274.50L494.08 280.60L486.68 280.60Z" fill="#dc6262"/>
<path transform="translate(490.38,309.20) scale(0.9)" d="M0.00 -3.40L3.70 2.70L-3.70 2.70Z" fill="#fff" stroke="#dc6262" stroke-width="1.11" stroke-linejoin="miter"/>
<path d="M501.82 272.80L505.52 278.90L498.12 278.90Z" fill="#dc6262"/>
<path transform="translate(501.82,304.50) scale(0.9)" d="M0.00 -3.40L3.70 2.70L-3.70 2.70Z" fill="#fff" stroke="#dc6262" stroke-width="1.11" stroke-linejoin="miter"/>
<path d="M513.26 270.50L516.96 276.60L509.56 276.60Z" fill="#dc6262"/>
<path transform="translate(513.26,299.10) scale(0.9)" d="M0.00 -3.40L3.70 2.70L-3.70 2.70Z" fill="#fff" stroke="#dc6262" stroke-width="1.11" stroke-linejoin="miter"/>
<path d="M524.70 268.10L528.40 274.20L521.00 274.20Z" fill="#dc6262"/>
<path transform="translate(524.70,294.40) scale(0.9)" d="M0.00 -3.40L3.70 2.70L-3.70 2.70Z" fill="#fff" stroke="#dc6262" stroke-width="1.11" stroke-linejoin="miter"/>
<path d="M536.14 265.40L539.84 271.50L532.44 271.50Z" fill="#dc6262"/>
<path transform="translate(536.14,289.00) scale(0.9)" d="M0.00 -3.40L3.70 2.70L-3.70 2.70Z" fill="#fff" stroke="#dc6262" stroke-width="1.11" stroke-linejoin="miter"/>
<path d="M547.58 263.10L551.28 269.20L543.88 269.20Z" fill="#dc6262"/>
<path transform="translate(547.58,283.10) scale(0.9)" d="M0.00 -3.40L3.70 2.70L-3.70 2.70Z" fill="#fff" stroke="#dc6262" stroke-width="1.11" stroke-linejoin="miter"/>
<path d="M559.02 261.10L562.72 267.20L555.32 267.20Z" fill="#dc6262"/>
<path transform="translate(559.02,277.30) scale(0.9)" d="M0.00 -3.40L3.70 2.70L-3.70 2.70Z" fill="#fff" stroke="#dc6262" stroke-width="1.11" stroke-linejoin="miter"/>
<path d="M570.46 256.60L574.16 262.70L566.76 262.70Z" fill="#dc6262"/>
<path transform="translate(570.46,269.40) scale(0.9)" d="M0.00 -3.40L3.70 2.70L-3.70 2.70Z" fill="#fff" stroke="#dc6262" stroke-width="1.11" stroke-linejoin="miter"/>
<path d="M410.30 257.55L407.40 259.22L407.40 262.57L410.30 264.25L413.20 262.57L413.20 259.22Z" fill="#4a86d0"/>
<path transform="translate(410.30,318.60) scale(0.9)" d="M0.00 -3.35L-2.90 -1.67L-2.90 1.68L-0.00 3.35L2.90 1.68L2.90 -1.68Z" fill="#fff" stroke="#4a86d0" stroke-width="1.11" stroke-linejoin="miter"/>
<path d="M421.74 256.85L418.84 258.52L418.84 261.88L421.74 263.55L424.64 261.88L424.64 258.52Z" fill="#4a86d0"/>
<path transform="translate(421.74,316.70) scale(0.9)" d="M0.00 -3.35L-2.90 -1.67L-2.90 1.68L-0.00 3.35L2.90 1.68L2.90 -1.68Z" fill="#fff" stroke="#4a86d0" stroke-width="1.11" stroke-linejoin="miter"/>
<path d="M433.18 256.35L430.28 258.02L430.28 261.38L433.18 263.05L436.08 261.38L436.08 258.02Z" fill="#4a86d0"/>
<path transform="translate(433.18,313.40) scale(0.9)" d="M0.00 -3.35L-2.90 -1.67L-2.90 1.68L-0.00 3.35L2.90 1.68L2.90 -1.68Z" fill="#fff" stroke="#4a86d0" stroke-width="1.11" stroke-linejoin="miter"/>
<path d="M444.62 255.65L441.72 257.32L441.72 260.68L444.62 262.35L447.52 260.68L447.52 257.32Z" fill="#4a86d0"/>
<path transform="translate(444.62,310.80) scale(0.9)" d="M0.00 -3.35L-2.90 -1.67L-2.90 1.68L-0.00 3.35L2.90 1.68L2.90 -1.68Z" fill="#fff" stroke="#4a86d0" stroke-width="1.11" stroke-linejoin="miter"/>
<path d="M456.06 254.75L453.16 256.43L453.16 259.78L456.06 261.45L458.96 259.78L458.96 256.43Z" fill="#4a86d0"/>
<path transform="translate(456.06,308.00) scale(0.9)" d="M0.00 -3.35L-2.90 -1.67L-2.90 1.68L-0.00 3.35L2.90 1.68L2.90 -1.68Z" fill="#fff" stroke="#4a86d0" stroke-width="1.11" stroke-linejoin="miter"/>
<path d="M467.50 254.05L464.60 255.72L464.60 259.07L467.50 260.75L470.40 259.07L470.40 255.72Z" fill="#4a86d0"/>
<path transform="translate(467.50,304.50) scale(0.9)" d="M0.00 -3.35L-2.90 -1.67L-2.90 1.68L-0.00 3.35L2.90 1.68L2.90 -1.68Z" fill="#fff" stroke="#4a86d0" stroke-width="1.11" stroke-linejoin="miter"/>
<path d="M478.94 252.85L476.04 254.52L476.04 257.88L478.94 259.55L481.84 257.88L481.84 254.52Z" fill="#4a86d0"/>
<path transform="translate(478.94,300.20) scale(0.9)" d="M0.00 -3.35L-2.90 -1.67L-2.90 1.68L-0.00 3.35L2.90 1.68L2.90 -1.68Z" fill="#fff" stroke="#4a86d0" stroke-width="1.11" stroke-linejoin="miter"/>
<path d="M490.38 251.65L487.48 253.32L487.48 256.68L490.38 258.35L493.28 256.68L493.28 253.32Z" fill="#4a86d0"/>
<path transform="translate(490.38,295.10) scale(0.9)" d="M0.00 -3.35L-2.90 -1.67L-2.90 1.68L-0.00 3.35L2.90 1.68L2.90 -1.68Z" fill="#fff" stroke="#4a86d0" stroke-width="1.11" stroke-linejoin="miter"/>
<path d="M501.82 250.05L498.92 251.72L498.92 255.08L501.82 256.75L504.72 255.08L504.72 251.72Z" fill="#4a86d0"/>
<path transform="translate(501.82,290.80) scale(0.9)" d="M0.00 -3.35L-2.90 -1.67L-2.90 1.68L-0.00 3.35L2.90 1.68L2.90 -1.68Z" fill="#fff" stroke="#4a86d0" stroke-width="1.11" stroke-linejoin="miter"/>
<path d="M513.26 248.65L510.36 250.32L510.36 253.68L513.26 255.35L516.16 253.68L516.16 250.32Z" fill="#4a86d0"/>
<path transform="translate(513.26,285.70) scale(0.9)" d="M0.00 -3.35L-2.90 -1.67L-2.90 1.68L-0.00 3.35L2.90 1.68L2.90 -1.68Z" fill="#fff" stroke="#4a86d0" stroke-width="1.11" stroke-linejoin="miter"/>
<path d="M524.70 246.95L521.80 248.62L521.80 251.98L524.70 253.65L527.60 251.98L527.60 248.62Z" fill="#4a86d0"/>
<path transform="translate(524.70,281.40) scale(0.9)" d="M0.00 -3.35L-2.90 -1.67L-2.90 1.68L-0.00 3.35L2.90 1.68L2.90 -1.68Z" fill="#fff" stroke="#4a86d0" stroke-width="1.11" stroke-linejoin="miter"/>
<path d="M536.14 245.15L533.24 246.82L533.24 250.18L536.14 251.85L539.04 250.18L539.04 246.82Z" fill="#4a86d0"/>
<path transform="translate(536.14,275.80) scale(0.9)" d="M0.00 -3.35L-2.90 -1.67L-2.90 1.68L-0.00 3.35L2.90 1.68L2.90 -1.68Z" fill="#fff" stroke="#4a86d0" stroke-width="1.11" stroke-linejoin="miter"/>
<path d="M547.58 243.45L544.68 245.12L544.68 248.48L547.58 250.15L550.48 248.48L550.48 245.12Z" fill="#4a86d0"/>
<path transform="translate(547.58,271.20) scale(0.9)" d="M0.00 -3.35L-2.90 -1.67L-2.90 1.68L-0.00 3.35L2.90 1.68L2.90 -1.68Z" fill="#fff" stroke="#4a86d0" stroke-width="1.11" stroke-linejoin="miter"/>
<path d="M559.02 240.65L556.12 242.32L556.12 245.68L559.02 247.35L561.92 245.68L561.92 242.32Z" fill="#4a86d0"/>
<path transform="translate(559.02,265.70) scale(0.9)" d="M0.00 -3.35L-2.90 -1.67L-2.90 1.68L-0.00 3.35L2.90 1.68L2.90 -1.68Z" fill="#fff" stroke="#4a86d0" stroke-width="1.11" stroke-linejoin="miter"/>
<path d="M570.46 238.15L567.56 239.82L567.56 243.18L570.46 244.85L573.36 243.18L573.36 239.82Z" fill="#4a86d0"/>
<path transform="translate(570.46,259.30) scale(0.9)" d="M0.00 -3.35L-2.90 -1.67L-2.90 1.68L-0.00 3.35L2.90 1.68L2.90 -1.68Z" fill="#fff" stroke="#4a86d0" stroke-width="1.11" stroke-linejoin="miter"/>
<path d="M410.30 273.95L409.39 276.45L406.73 276.54L408.83 278.18L408.10 280.73L410.30 279.25L412.50 280.73L411.77 278.18L413.87 276.54L411.21 276.45Z" fill="#5aa02c"/>
<path transform="translate(410.30,314.40) scale(0.9)" d="M0.00 -3.45L-0.91 -0.95L-3.57 -0.86L-1.47 0.78L-2.20 3.33L-0.00 1.85L2.20 3.33L1.47 0.78L3.57 -0.86L0.91 -0.95Z" fill="#fff" stroke="#5aa02c" stroke-width="1.00" stroke-linejoin="miter"/>
<path d="M421.74 273.95L420.83 276.45L418.17 276.54L420.27 278.18L419.54 280.73L421.74 279.25L423.94 280.73L423.21 278.18L425.31 276.54L422.65 276.45Z" fill="#5aa02c"/>
<path transform="translate(421.74,313.40) scale(0.9)" d="M0.00 -3.45L-0.91 -0.95L-3.57 -0.86L-1.47 0.78L-2.20 3.33L-0.00 1.85L2.20 3.33L1.47 0.78L3.57 -0.86L0.91 -0.95Z" fill="#fff" stroke="#5aa02c" stroke-width="1.00" stroke-linejoin="miter"/>
<path d="M433.18 273.45L432.27 275.95L429.61 276.04L431.71 277.68L430.98 280.23L433.18 278.75L435.38 280.23L434.65 277.68L436.75 276.04L434.09 275.95Z" fill="#5aa02c"/>
<path transform="translate(433.18,311.60) scale(0.9)" d="M0.00 -3.45L-0.91 -0.95L-3.57 -0.86L-1.47 0.78L-2.20 3.33L-0.00 1.85L2.20 3.33L1.47 0.78L3.57 -0.86L0.91 -0.95Z" fill="#fff" stroke="#5aa02c" stroke-width="1.00" stroke-linejoin="miter"/>
<path d="M444.62 272.75L443.71 275.25L441.05 275.34L443.15 276.98L442.42 279.53L444.62 278.05L446.82 279.53L446.09 276.98L448.19 275.34L445.53 275.25Z" fill="#5aa02c"/>
<path transform="translate(444.62,309.70) scale(0.9)" d="M0.00 -3.45L-0.91 -0.95L-3.57 -0.86L-1.47 0.78L-2.20 3.33L-0.00 1.85L2.20 3.33L1.47 0.78L3.57 -0.86L0.91 -0.95Z" fill="#fff" stroke="#5aa02c" stroke-width="1.00" stroke-linejoin="miter"/>
<path d="M456.06 272.05L455.15 274.55L452.49 274.64L454.59 276.28L453.86 278.83L456.06 277.35L458.26 278.83L457.53 276.28L459.63 274.64L456.97 274.55Z" fill="#5aa02c"/>
<path transform="translate(456.06,307.30) scale(0.9)" d="M0.00 -3.45L-0.91 -0.95L-3.57 -0.86L-1.47 0.78L-2.20 3.33L-0.00 1.85L2.20 3.33L1.47 0.78L3.57 -0.86L0.91 -0.95Z" fill="#fff" stroke="#5aa02c" stroke-width="1.00" stroke-linejoin="miter"/>
<path d="M467.50 270.85L466.59 273.35L463.93 273.44L466.03 275.08L465.30 277.63L467.50 276.15L469.70 277.63L468.97 275.08L471.07 273.44L468.41 273.35Z" fill="#5aa02c"/>
<path transform="translate(467.50,304.00) scale(0.9)" d="M0.00 -3.45L-0.91 -0.95L-3.57 -0.86L-1.47 0.78L-2.20 3.33L-0.00 1.85L2.20 3.33L1.47 0.78L3.57 -0.86L0.91 -0.95Z" fill="#fff" stroke="#5aa02c" stroke-width="1.00" stroke-linejoin="miter"/>
<path d="M478.94 269.95L478.03 272.45L475.37 272.54L477.47 274.18L476.74 276.73L478.94 275.25L481.14 276.73L480.41 274.18L482.51 272.54L479.85 272.45Z" fill="#5aa02c"/>
<path transform="translate(478.94,299.80) scale(0.9)" d="M0.00 -3.45L-0.91 -0.95L-3.57 -0.86L-1.47 0.78L-2.20 3.33L-0.00 1.85L2.20 3.33L1.47 0.78L3.57 -0.86L0.91 -0.95Z" fill="#fff" stroke="#5aa02c" stroke-width="1.00" stroke-linejoin="miter"/>
<path d="M490.38 268.55L489.47 271.05L486.81 271.14L488.91 272.78L488.18 275.33L490.38 273.85L492.58 275.33L491.85 272.78L493.95 271.14L491.29 271.05Z" fill="#5aa02c"/>
<path transform="translate(490.38,296.70) scale(0.9)" d="M0.00 -3.45L-0.91 -0.95L-3.57 -0.86L-1.47 0.78L-2.20 3.33L-0.00 1.85L2.20 3.33L1.47 0.78L3.57 -0.86L0.91 -0.95Z" fill="#fff" stroke="#5aa02c" stroke-width="1.00" stroke-linejoin="miter"/>
<path d="M501.82 266.85L500.91 269.35L498.25 269.44L500.35 271.08L499.62 273.63L501.82 272.15L504.02 273.63L503.29 271.08L505.39 269.44L502.73 269.35Z" fill="#5aa02c"/>
<path transform="translate(501.82,292.70) scale(0.9)" d="M0.00 -3.45L-0.91 -0.95L-3.57 -0.86L-1.47 0.78L-2.20 3.33L-0.00 1.85L2.20 3.33L1.47 0.78L3.57 -0.86L0.91 -0.95Z" fill="#fff" stroke="#5aa02c" stroke-width="1.00" stroke-linejoin="miter"/>
<path d="M513.26 265.05L512.35 267.55L509.69 267.64L511.79 269.28L511.06 271.83L513.26 270.35L515.46 271.83L514.73 269.28L516.83 267.64L514.17 267.55Z" fill="#5aa02c"/>
<path transform="translate(513.26,288.70) scale(0.9)" d="M0.00 -3.45L-0.91 -0.95L-3.57 -0.86L-1.47 0.78L-2.20 3.33L-0.00 1.85L2.20 3.33L1.47 0.78L3.57 -0.86L0.91 -0.95Z" fill="#fff" stroke="#5aa02c" stroke-width="1.00" stroke-linejoin="miter"/>
<path d="M524.70 262.85L523.79 265.35L521.13 265.44L523.23 267.08L522.50 269.63L524.70 268.15L526.90 269.63L526.17 267.08L528.27 265.44L525.61 265.35Z" fill="#5aa02c"/>
<path transform="translate(524.70,285.00) scale(0.9)" d="M0.00 -3.45L-0.91 -0.95L-3.57 -0.86L-1.47 0.78L-2.20 3.33L-0.00 1.85L2.20 3.33L1.47 0.78L3.57 -0.86L0.91 -0.95Z" fill="#fff" stroke="#5aa02c" stroke-width="1.00" stroke-linejoin="miter"/>
<path d="M536.14 260.55L535.23 263.05L532.57 263.14L534.67 264.78L533.94 267.33L536.14 265.85L538.34 267.33L537.61 264.78L539.71 263.14L537.05 263.05Z" fill="#5aa02c"/>
<path transform="translate(536.14,280.40) scale(0.9)" d="M0.00 -3.45L-0.91 -0.95L-3.57 -0.86L-1.47 0.78L-2.20 3.33L-0.00 1.85L2.20 3.33L1.47 0.78L3.57 -0.86L0.91 -0.95Z" fill="#fff" stroke="#5aa02c" stroke-width="1.00" stroke-linejoin="miter"/>
<path d="M547.58 258.05L546.67 260.55L544.01 260.64L546.11 262.28L545.38 264.83L547.58 263.35L549.78 264.83L549.05 262.28L551.15 260.64L548.49 260.55Z" fill="#5aa02c"/>
<path transform="translate(547.58,276.20) scale(0.9)" d="M0.00 -3.45L-0.91 -0.95L-3.57 -0.86L-1.47 0.78L-2.20 3.33L-0.00 1.85L2.20 3.33L1.47 0.78L3.57 -0.86L0.91 -0.95Z" fill="#fff" stroke="#5aa02c" stroke-width="1.00" stroke-linejoin="miter"/>
<path d="M559.02 255.45L558.11 257.95L555.45 258.04L557.55 259.68L556.82 262.23L559.02 260.75L561.22 262.23L560.49 259.68L562.59 258.04L559.93 257.95Z" fill="#5aa02c"/>
<path transform="translate(559.02,272.10) scale(0.9)" d="M0.00 -3.45L-0.91 -0.95L-3.57 -0.86L-1.47 0.78L-2.20 3.33L-0.00 1.85L2.20 3.33L1.47 0.78L3.57 -0.86L0.91 -0.95Z" fill="#fff" stroke="#5aa02c" stroke-width="1.00" stroke-linejoin="miter"/>
<path d="M570.46 249.05L569.55 251.55L566.89 251.64L568.99 253.28L568.26 255.83L570.46 254.35L572.66 255.83L571.93 253.28L574.03 251.64L571.37 251.55Z" fill="#5aa02c"/>
<path transform="translate(570.46,265.70) scale(0.9)" d="M0.00 -3.45L-0.91 -0.95L-3.57 -0.86L-1.47 0.78L-2.20 3.33L-0.00 1.85L2.20 3.33L1.47 0.78L3.57 -0.86L0.91 -0.95Z" fill="#fff" stroke="#5aa02c" stroke-width="1.00" stroke-linejoin="miter"/>
<path d="M410.30 265.80L413.80 269.60L410.30 273.40L406.80 269.60Z" fill="#8868d0"/>
<path transform="translate(410.30,306.10) scale(0.9)" d="M0.00 -3.80L3.50 0.00L0.00 3.80L-3.50 0.00Z" fill="#fff" stroke="#8868d0" stroke-width="1.11" stroke-linejoin="miter"/>
<path d="M421.74 265.80L425.24 269.60L421.74 273.40L418.24 269.60Z" fill="#8868d0"/>
<path transform="translate(421.74,305.70) scale(0.9)" d="M0.00 -3.80L3.50 0.00L0.00 3.80L-3.50 0.00Z" fill="#fff" stroke="#8868d0" stroke-width="1.11" stroke-linejoin="miter"/>
<path d="M433.18 265.30L436.68 269.10L433.18 272.90L429.68 269.10Z" fill="#8868d0"/>
<path transform="translate(433.18,304.00) scale(0.9)" d="M0.00 -3.80L3.50 0.00L0.00 3.80L-3.50 0.00Z" fill="#fff" stroke="#8868d0" stroke-width="1.11" stroke-linejoin="miter"/>
<path d="M444.62 264.60L448.12 268.40L444.62 272.20L441.12 268.40Z" fill="#8868d0"/>
<path transform="translate(444.62,301.70) scale(0.9)" d="M0.00 -3.80L3.50 0.00L0.00 3.80L-3.50 0.00Z" fill="#fff" stroke="#8868d0" stroke-width="1.11" stroke-linejoin="miter"/>
<path d="M456.06 263.90L459.56 267.70L456.06 271.50L452.56 267.70Z" fill="#8868d0"/>
<path transform="translate(456.06,299.10) scale(0.9)" d="M0.00 -3.80L3.50 0.00L0.00 3.80L-3.50 0.00Z" fill="#fff" stroke="#8868d0" stroke-width="1.11" stroke-linejoin="miter"/>
<path d="M467.50 263.00L471.00 266.80L467.50 270.60L464.00 266.80Z" fill="#8868d0"/>
<path transform="translate(467.50,296.20) scale(0.9)" d="M0.00 -3.80L3.50 0.00L0.00 3.80L-3.50 0.00Z" fill="#fff" stroke="#8868d0" stroke-width="1.11" stroke-linejoin="miter"/>
<path d="M478.94 262.00L482.44 265.80L478.94 269.60L475.44 265.80Z" fill="#8868d0"/>
<path transform="translate(478.94,292.70) scale(0.9)" d="M0.00 -3.80L3.50 0.00L0.00 3.80L-3.50 0.00Z" fill="#fff" stroke="#8868d0" stroke-width="1.11" stroke-linejoin="miter"/>
<path d="M490.38 261.10L493.88 264.90L490.38 268.70L486.88 264.90Z" fill="#8868d0"/>
<path transform="translate(490.38,289.50) scale(0.9)" d="M0.00 -3.80L3.50 0.00L0.00 3.80L-3.50 0.00Z" fill="#fff" stroke="#8868d0" stroke-width="1.11" stroke-linejoin="miter"/>
<path d="M501.82 259.50L505.32 263.30L501.82 267.10L498.32 263.30Z" fill="#8868d0"/>
<path transform="translate(501.82,285.20) scale(0.9)" d="M0.00 -3.80L3.50 0.00L0.00 3.80L-3.50 0.00Z" fill="#fff" stroke="#8868d0" stroke-width="1.11" stroke-linejoin="miter"/>
<path d="M513.26 257.60L516.76 261.40L513.26 265.20L509.76 261.40Z" fill="#8868d0"/>
<path transform="translate(513.26,281.00) scale(0.9)" d="M0.00 -3.80L3.50 0.00L0.00 3.80L-3.50 0.00Z" fill="#fff" stroke="#8868d0" stroke-width="1.11" stroke-linejoin="miter"/>
<path d="M524.70 255.70L528.20 259.50L524.70 263.30L521.20 259.50Z" fill="#8868d0"/>
<path transform="translate(524.70,277.00) scale(0.9)" d="M0.00 -3.80L3.50 0.00L0.00 3.80L-3.50 0.00Z" fill="#fff" stroke="#8868d0" stroke-width="1.11" stroke-linejoin="miter"/>
<path d="M536.14 253.70L539.64 257.50L536.14 261.30L532.64 257.50Z" fill="#8868d0"/>
<path transform="translate(536.14,272.10) scale(0.9)" d="M0.00 -3.80L3.50 0.00L0.00 3.80L-3.50 0.00Z" fill="#fff" stroke="#8868d0" stroke-width="1.11" stroke-linejoin="miter"/>
<path d="M547.58 250.90L551.08 254.70L547.58 258.50L544.08 254.70Z" fill="#8868d0"/>
<path transform="translate(547.58,268.10) scale(0.9)" d="M0.00 -3.80L3.50 0.00L0.00 3.80L-3.50 0.00Z" fill="#fff" stroke="#8868d0" stroke-width="1.11" stroke-linejoin="miter"/>
<path d="M559.02 248.50L562.52 252.30L559.02 256.10L555.52 252.30Z" fill="#8868d0"/>
<path transform="translate(559.02,263.90) scale(0.9)" d="M0.00 -3.80L3.50 0.00L0.00 3.80L-3.50 0.00Z" fill="#fff" stroke="#8868d0" stroke-width="1.11" stroke-linejoin="miter"/>
<path d="M570.46 242.20L573.96 246.00L570.46 249.80L566.96 246.00Z" fill="#8868d0"/>
<path transform="translate(570.46,255.60) scale(0.9)" d="M0.00 -3.80L3.50 0.00L0.00 3.80L-3.50 0.00Z" fill="#fff" stroke="#8868d0" stroke-width="1.11" stroke-linejoin="miter"/>
</svg></body></html>
